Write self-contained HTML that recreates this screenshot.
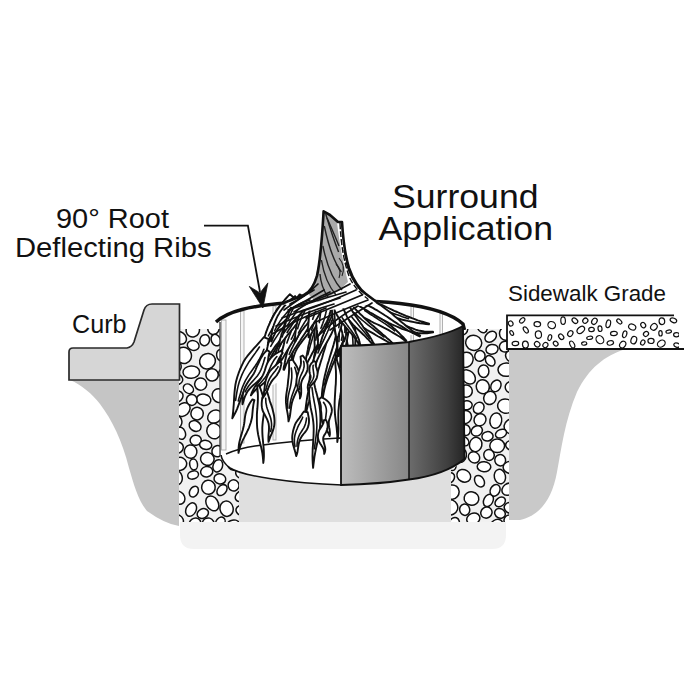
<!DOCTYPE html>
<html><head><meta charset="utf-8">
<style>
html,body{margin:0;padding:0;background:#fff;width:700px;height:700px;overflow:hidden}
svg{display:block}
text{font-family:"Liberation Sans",sans-serif;fill:#111}
</style></head>
<body>
<svg width="700" height="700" viewBox="0 0 700 700">
<defs>
  <clipPath id="cL"><path d="M179 329 H220 V456 Q224 466 239 472 V522 H179 Z"/></clipPath>
  <clipPath id="cR"><path d="M464 329 H509 V522 H451 V470 Q462 462 464 459 Z"/></clipPath>
  <clipPath id="cS"><rect x="507" y="316" width="172" height="32"/></clipPath>
  <linearGradient id="gL" gradientUnits="userSpaceOnUse" x1="341" x2="409" y1="0" y2="0">
    <stop offset="0" stop-color="#bdbdbd"/>
    <stop offset="1" stop-color="#878787"/>
  </linearGradient>
  <linearGradient id="gR" gradientUnits="userSpaceOnUse" x1="409" x2="465" y1="0" y2="0">
    <stop offset="0" stop-color="#6c6c6c"/>
    <stop offset="0.7" stop-color="#3e3e3e"/>
    <stop offset="1" stop-color="#242424"/>
  </linearGradient>
</defs>
<rect width="700" height="700" fill="#fff"/>

<!-- bottom faint band -->
<path d="M180 515 H506 V535 Q506 549 492 549 H194 Q180 549 180 535 Z" fill="#f3f3f3"/>

<!-- left ground -->
<path d="M70 380 H179 V526 Q165 524 147 511 C138 500 134 485 129 468 C122 440 112 420 100 404 C92 394 82 385 70 380 Z" fill="#c5c5c5"/>
<!-- right ground -->
<path d="M509 349 H626 C604 356 589 368 577 392 C565 420 561 450 557 472 C552 500 539 516 520 520 H509 Z" fill="#c9c9c9"/>

<!-- floor under cylinder -->
<rect x="220" y="430" width="244" height="92" fill="#dfdfdf"/>

<!-- gravel columns -->
<rect x="179" y="329" width="60" height="194" fill="#f1f1f1" clip-path="url(#cL)"/>
<g clip-path="url(#cL)" fill="#fff" stroke="#111" stroke-width="1.5"><ellipse cx="180.6" cy="433.1" rx="6.4" ry="4.7" transform="rotate(66 180.6 433.1)"/><ellipse cx="204.7" cy="340.2" rx="4.8" ry="5.6" transform="rotate(16 204.7 340.2)"/><ellipse cx="190.6" cy="451.6" rx="6.3" ry="6.7" transform="rotate(171 190.6 451.6)"/><ellipse cx="178.6" cy="497.6" rx="7.1" ry="5.8" transform="rotate(52 178.6 497.6)"/><ellipse cx="229.3" cy="362.2" rx="4.3" ry="5.8" transform="rotate(105 229.3 362.2)"/><ellipse cx="179.6" cy="337.9" rx="7.3" ry="5.9" transform="rotate(37 179.6 337.9)"/><ellipse cx="214.7" cy="416.6" rx="6.2" ry="7.4" transform="rotate(54 214.7 416.6)"/><ellipse cx="214.0" cy="431.1" rx="7.1" ry="7.8" transform="rotate(158 214.0 431.1)"/><ellipse cx="183.2" cy="409.6" rx="7.6" ry="6.0" transform="rotate(136 183.2 409.6)"/><ellipse cx="219.9" cy="478.9" rx="5.0" ry="5.9" transform="rotate(103 219.9 478.9)"/><ellipse cx="207.3" cy="458.9" rx="6.8" ry="6.4" transform="rotate(11 207.3 458.9)"/><ellipse cx="230.7" cy="382.8" rx="7.5" ry="6.7" transform="rotate(69 230.7 382.8)"/><ellipse cx="212.3" cy="503.4" rx="5.8" ry="8.0" transform="rotate(147 212.3 503.4)"/><ellipse cx="191.3" cy="372.1" rx="6.2" ry="8.3" transform="rotate(87 191.3 372.1)"/><ellipse cx="203.7" cy="399.7" rx="5.6" ry="7.2" transform="rotate(102 203.7 399.7)"/><ellipse cx="233.6" cy="485.4" rx="5.6" ry="5.4" transform="rotate(71 233.6 485.4)"/><ellipse cx="193.9" cy="491.7" rx="4.1" ry="5.7" transform="rotate(29 193.9 491.7)"/><ellipse cx="232.8" cy="465.0" rx="5.5" ry="4.7" transform="rotate(47 232.8 465.0)"/><ellipse cx="241.2" cy="496.1" rx="6.4" ry="4.9" transform="rotate(145 241.2 496.1)"/><ellipse cx="193.6" cy="464.4" rx="3.9" ry="5.5" transform="rotate(172 193.6 464.4)"/><ellipse cx="239.4" cy="398.8" rx="6.7" ry="6.6" transform="rotate(40 239.4 398.8)"/><ellipse cx="229.4" cy="342.7" rx="7.9" ry="6.7" transform="rotate(119 229.4 342.7)"/><ellipse cx="207.5" cy="361.2" rx="8.1" ry="7.6" transform="rotate(142 207.5 361.2)"/><ellipse cx="183.8" cy="355.4" rx="7.6" ry="8.2" transform="rotate(163 183.8 355.4)"/><ellipse cx="177.1" cy="520.4" rx="5.6" ry="6.5" transform="rotate(117 177.1 520.4)"/><ellipse cx="226.6" cy="508.7" rx="7.7" ry="6.6" transform="rotate(80 226.6 508.7)"/><ellipse cx="208.2" cy="524.0" rx="6.0" ry="6.1" transform="rotate(150 208.2 524.0)"/><ellipse cx="179.6" cy="463.9" rx="6.5" ry="7.1" transform="rotate(77 179.6 463.9)"/><ellipse cx="195.1" cy="426.0" rx="6.3" ry="5.0" transform="rotate(32 195.1 426.0)"/><ellipse cx="212.1" cy="374.9" rx="6.2" ry="6.1" transform="rotate(174 212.1 374.9)"/><ellipse cx="175.9" cy="379.0" rx="6.9" ry="5.3" transform="rotate(16 175.9 379.0)"/><ellipse cx="241.3" cy="355.2" rx="6.6" ry="8.0" transform="rotate(130 241.3 355.2)"/><ellipse cx="235.4" cy="451.4" rx="7.3" ry="5.2" transform="rotate(132 235.4 451.4)"/><ellipse cx="217.4" cy="451.2" rx="5.7" ry="5.4" transform="rotate(123 217.4 451.2)"/><ellipse cx="213.5" cy="328.4" rx="5.7" ry="6.2" transform="rotate(11 213.5 328.4)"/><ellipse cx="238.9" cy="435.9" rx="7.8" ry="7.0" transform="rotate(130 238.9 435.9)"/><ellipse cx="191.1" cy="509.6" rx="7.1" ry="5.0" transform="rotate(116 191.1 509.6)"/><ellipse cx="217.8" cy="465.8" rx="4.7" ry="6.3" transform="rotate(20 217.8 465.8)"/><ellipse cx="193.1" cy="475.0" rx="5.5" ry="4.0" transform="rotate(162 193.1 475.0)"/><ellipse cx="176.2" cy="477.5" rx="6.0" ry="7.5" transform="rotate(165 176.2 477.5)"/><ellipse cx="188.4" cy="388.8" rx="5.4" ry="4.3" transform="rotate(37 188.4 388.8)"/><ellipse cx="232.9" cy="525.9" rx="5.7" ry="7.1" transform="rotate(65 232.9 525.9)"/><ellipse cx="234.4" cy="418.2" rx="6.3" ry="6.7" transform="rotate(29 234.4 418.2)"/><ellipse cx="208.4" cy="487.3" rx="6.8" ry="7.0" transform="rotate(174 208.4 487.3)"/><ellipse cx="234.6" cy="328.4" rx="7.2" ry="7.3" transform="rotate(47 234.6 328.4)"/><ellipse cx="218.8" cy="395.6" rx="7.0" ry="6.5" transform="rotate(59 218.8 395.6)"/><ellipse cx="178.1" cy="447.8" rx="5.6" ry="5.0" transform="rotate(123 178.1 447.8)"/><ellipse cx="241.9" cy="510.5" rx="6.0" ry="4.9" transform="rotate(18 241.9 510.5)"/><ellipse cx="176.3" cy="396.6" rx="6.9" ry="5.7" transform="rotate(155 176.3 396.6)"/><ellipse cx="194.9" cy="523.6" rx="5.3" ry="6.1" transform="rotate(53 194.9 523.6)"/><ellipse cx="195.7" cy="440.2" rx="5.6" ry="5.0" transform="rotate(172 195.7 440.2)"/><ellipse cx="192.8" cy="330.2" rx="6.6" ry="6.9" transform="rotate(30 192.8 330.2)"/><ellipse cx="206.7" cy="471.7" rx="5.2" ry="6.1" transform="rotate(77 206.7 471.7)"/><ellipse cx="197.1" cy="413.6" rx="6.2" ry="6.3" transform="rotate(20 197.1 413.6)"/><ellipse cx="220.7" cy="355.1" rx="5.7" ry="4.1" transform="rotate(83 220.7 355.1)"/><ellipse cx="200.7" cy="384.1" rx="6.1" ry="6.0" transform="rotate(72 200.7 384.1)"/><ellipse cx="239.6" cy="370.1" rx="6.7" ry="6.6" transform="rotate(40 239.6 370.1)"/><ellipse cx="226.5" cy="440.6" rx="5.3" ry="6.0" transform="rotate(149 226.5 440.6)"/><ellipse cx="228.3" cy="404.8" rx="6.4" ry="6.2" transform="rotate(82 228.3 404.8)"/><ellipse cx="241.4" cy="472.7" rx="5.5" ry="5.7" transform="rotate(77 241.4 472.7)"/><ellipse cx="205.7" cy="444.9" rx="4.5" ry="6.1" transform="rotate(99 205.7 444.9)"/><ellipse cx="220.4" cy="522.1" rx="4.2" ry="5.4" transform="rotate(38 220.4 522.1)"/><ellipse cx="222.0" cy="490.1" rx="6.1" ry="4.3" transform="rotate(129 222.0 490.1)"/><ellipse cx="193.2" cy="345.5" rx="4.8" ry="6.0" transform="rotate(106 193.2 345.5)"/><ellipse cx="215.9" cy="340.1" rx="6.0" ry="4.5" transform="rotate(64 215.9 340.1)"/><ellipse cx="176.6" cy="367.1" rx="5.6" ry="4.5" transform="rotate(104 176.6 367.1)"/><ellipse cx="223.6" cy="372.0" rx="4.0" ry="5.4" transform="rotate(48 223.6 372.0)"/><ellipse cx="176.9" cy="421.6" rx="6.2" ry="5.0" transform="rotate(84 176.9 421.6)"/><ellipse cx="241.7" cy="338.8" rx="5.6" ry="5.6" transform="rotate(88 241.7 338.8)"/><ellipse cx="227.0" cy="429.3" rx="4.2" ry="5.7" transform="rotate(157 227.0 429.3)"/><ellipse cx="202.8" cy="513.5" rx="4.7" ry="5.8" transform="rotate(63 202.8 513.5)"/><ellipse cx="191.7" cy="399.9" rx="5.3" ry="5.5" transform="rotate(7 191.7 399.9)"/></g>
<rect x="451" y="329" width="58" height="194" fill="#f1f1f1" clip-path="url(#cR)"/>
<g clip-path="url(#cR)" fill="#fff" stroke="#111" stroke-width="1.5"><ellipse cx="511.2" cy="387.3" rx="6.0" ry="5.7" transform="rotate(22 511.2 387.3)"/><ellipse cx="466.0" cy="359.8" rx="7.0" ry="7.8" transform="rotate(29 466.0 359.8)"/><ellipse cx="473.3" cy="518.7" rx="6.7" ry="5.5" transform="rotate(158 473.3 518.7)"/><ellipse cx="465.5" cy="417.0" rx="6.5" ry="5.9" transform="rotate(112 465.5 417.0)"/><ellipse cx="497.2" cy="445.8" rx="6.8" ry="7.4" transform="rotate(88 497.2 445.8)"/><ellipse cx="484.0" cy="466.7" rx="6.8" ry="5.0" transform="rotate(4 484.0 466.7)"/><ellipse cx="473.7" cy="342.8" rx="8.1" ry="7.5" transform="rotate(22 473.7 342.8)"/><ellipse cx="488.4" cy="500.4" rx="6.5" ry="4.6" transform="rotate(117 488.4 500.4)"/><ellipse cx="495.9" cy="385.9" rx="4.8" ry="6.1" transform="rotate(31 495.9 385.9)"/><ellipse cx="466.2" cy="391.1" rx="6.1" ry="6.1" transform="rotate(36 466.2 391.1)"/><ellipse cx="505.6" cy="406.1" rx="8.0" ry="7.1" transform="rotate(18 505.6 406.1)"/><ellipse cx="479.5" cy="481.2" rx="4.5" ry="6.2" transform="rotate(148 479.5 481.2)"/><ellipse cx="452.0" cy="492.1" rx="7.0" ry="7.3" transform="rotate(39 452.0 492.1)"/><ellipse cx="448.3" cy="425.9" rx="6.6" ry="5.9" transform="rotate(89 448.3 425.9)"/><ellipse cx="458.1" cy="342.7" rx="6.5" ry="4.8" transform="rotate(125 458.1 342.7)"/><ellipse cx="450.8" cy="443.4" rx="5.8" ry="6.3" transform="rotate(134 450.8 443.4)"/><ellipse cx="461.0" cy="455.4" rx="5.4" ry="7.1" transform="rotate(11 461.0 455.4)"/><ellipse cx="463.8" cy="475.8" rx="6.0" ry="7.2" transform="rotate(120 463.8 475.8)"/><ellipse cx="478.7" cy="407.9" rx="5.0" ry="6.0" transform="rotate(37 478.7 407.9)"/><ellipse cx="511.5" cy="356.2" rx="5.5" ry="6.4" transform="rotate(136 511.5 356.2)"/><ellipse cx="475.7" cy="444.5" rx="6.2" ry="7.2" transform="rotate(14 475.7 444.5)"/><ellipse cx="496.1" cy="526.8" rx="6.2" ry="8.1" transform="rotate(34 496.1 526.8)"/><ellipse cx="482.8" cy="386.7" rx="6.5" ry="7.1" transform="rotate(162 482.8 386.7)"/><ellipse cx="505.9" cy="333.5" rx="6.4" ry="6.7" transform="rotate(4 505.9 333.5)"/><ellipse cx="499.9" cy="476.6" rx="7.3" ry="5.6" transform="rotate(77 499.9 476.6)"/><ellipse cx="511.8" cy="508.1" rx="5.7" ry="7.7" transform="rotate(104 511.8 508.1)"/><ellipse cx="454.2" cy="523.5" rx="6.2" ry="5.0" transform="rotate(112 454.2 523.5)"/><ellipse cx="500.2" cy="460.2" rx="5.7" ry="5.4" transform="rotate(77 500.2 460.2)"/><ellipse cx="452.1" cy="379.9" rx="7.4" ry="8.0" transform="rotate(108 452.1 379.9)"/><ellipse cx="492.0" cy="349.3" rx="6.1" ry="4.8" transform="rotate(170 492.0 349.3)"/><ellipse cx="453.8" cy="406.3" rx="7.6" ry="7.9" transform="rotate(14 453.8 406.3)"/><ellipse cx="471.5" cy="498.5" rx="6.6" ry="7.4" transform="rotate(101 471.5 498.5)"/><ellipse cx="486.4" cy="512.6" rx="5.8" ry="5.4" transform="rotate(143 486.4 512.6)"/><ellipse cx="506.3" cy="369.6" rx="6.7" ry="8.3" transform="rotate(88 506.3 369.6)"/><ellipse cx="511.1" cy="445.5" rx="4.6" ry="5.5" transform="rotate(110 511.1 445.5)"/><ellipse cx="461.3" cy="328.8" rx="6.5" ry="6.5" transform="rotate(136 461.3 328.8)"/><ellipse cx="483.6" cy="371.2" rx="5.3" ry="6.3" transform="rotate(178 483.6 371.2)"/><ellipse cx="495.8" cy="420.6" rx="5.9" ry="7.7" transform="rotate(10 495.8 420.6)"/><ellipse cx="465.7" cy="430.1" rx="4.5" ry="5.4" transform="rotate(168 465.7 430.1)"/><ellipse cx="451.2" cy="464.7" rx="6.1" ry="4.4" transform="rotate(63 451.2 464.7)"/><ellipse cx="450.0" cy="507.3" rx="7.6" ry="7.8" transform="rotate(110 450.0 507.3)"/><ellipse cx="490.7" cy="336.7" rx="6.4" ry="4.7" transform="rotate(141 490.7 336.7)"/><ellipse cx="480.0" cy="419.8" rx="6.3" ry="5.8" transform="rotate(128 480.0 419.8)"/><ellipse cx="489.9" cy="397.9" rx="6.7" ry="6.1" transform="rotate(115 489.9 397.9)"/><ellipse cx="511.8" cy="426.6" rx="7.7" ry="7.4" transform="rotate(9 511.8 426.6)"/><ellipse cx="508.4" cy="489.2" rx="6.9" ry="5.6" transform="rotate(143 508.4 489.2)"/><ellipse cx="500.2" cy="501.9" rx="5.7" ry="4.2" transform="rotate(143 500.2 501.9)"/><ellipse cx="448.0" cy="351.0" rx="6.3" ry="6.7" transform="rotate(173 448.0 351.0)"/><ellipse cx="482.1" cy="326.6" rx="4.8" ry="6.4" transform="rotate(153 482.1 326.6)"/><ellipse cx="468.3" cy="376.9" rx="6.0" ry="8.0" transform="rotate(134 468.3 376.9)"/><ellipse cx="487.5" cy="436.3" rx="5.6" ry="4.7" transform="rotate(173 487.5 436.3)"/><ellipse cx="479.9" cy="355.9" rx="5.1" ry="5.4" transform="rotate(31 479.9 355.9)"/><ellipse cx="510.8" cy="467.5" rx="7.7" ry="6.1" transform="rotate(7 510.8 467.5)"/><ellipse cx="463.8" cy="440.9" rx="4.0" ry="5.6" transform="rotate(132 463.8 440.9)"/><ellipse cx="453.7" cy="367.0" rx="4.5" ry="5.4" transform="rotate(105 453.7 367.0)"/><ellipse cx="449.3" cy="332.7" rx="6.2" ry="4.7" transform="rotate(176 449.3 332.7)"/><ellipse cx="449.7" cy="478.1" rx="4.3" ry="5.7" transform="rotate(37 449.7 478.1)"/><ellipse cx="464.7" cy="509.7" rx="5.7" ry="5.0" transform="rotate(77 464.7 509.7)"/><ellipse cx="474.0" cy="457.4" rx="5.3" ry="6.0" transform="rotate(129 474.0 457.4)"/><ellipse cx="495.1" cy="490.3" rx="6.1" ry="4.7" transform="rotate(117 495.1 490.3)"/><ellipse cx="490.2" cy="360.8" rx="5.7" ry="4.2" transform="rotate(52 490.2 360.8)"/><ellipse cx="500.0" cy="513.4" rx="4.7" ry="5.5" transform="rotate(121 500.0 513.4)"/><ellipse cx="505.1" cy="346.6" rx="5.4" ry="5.7" transform="rotate(74 505.1 346.6)"/><ellipse cx="489.0" cy="455.0" rx="5.2" ry="5.5" transform="rotate(153 489.0 455.0)"/><ellipse cx="452.5" cy="393.3" rx="4.4" ry="5.5" transform="rotate(176 452.5 393.3)"/><ellipse cx="466.8" cy="405.3" rx="4.5" ry="5.4" transform="rotate(81 466.8 405.3)"/><ellipse cx="509.4" cy="520.4" rx="5.4" ry="5.4" transform="rotate(5 509.4 520.4)"/><ellipse cx="501.0" cy="433.6" rx="5.8" ry="4.1" transform="rotate(157 501.0 433.6)"/><ellipse cx="476.8" cy="430.9" rx="4.9" ry="5.8" transform="rotate(58 476.8 430.9)"/></g>

<!-- curb -->
<path d="M69 352 Q69 348 73 348 H127 Q132 347 134 342 L144 310 Q146 304 152 304 H179.5 V380 H69 Z" fill="#d6d6d6" stroke="#2a2a2a" stroke-width="1.7"/>

<!-- sidewalk slab -->
<rect x="507" y="315" width="172" height="34" fill="#fff"/>
<g clip-path="url(#cS)" fill="#fff" stroke="#111" stroke-width="1.2"><ellipse cx="580.8" cy="329.9" rx="4.3" ry="2.9" transform="rotate(137 580.8 329.9)"/><ellipse cx="661.3" cy="343.6" rx="4.1" ry="3.2" transform="rotate(148 661.3 343.6)"/><ellipse cx="632.2" cy="327.0" rx="3.7" ry="2.9" transform="rotate(27 632.2 327.0)"/><ellipse cx="653.9" cy="326.9" rx="3.0" ry="3.5" transform="rotate(44 653.9 326.9)"/><ellipse cx="608.3" cy="323.8" rx="3.9" ry="2.2" transform="rotate(103 608.3 323.8)"/><ellipse cx="676.8" cy="345.1" rx="2.1" ry="3.0" transform="rotate(110 676.8 345.1)"/><ellipse cx="589.7" cy="337.8" rx="1.6" ry="3.0" transform="rotate(80 589.7 337.8)"/><ellipse cx="563.1" cy="320.6" rx="2.3" ry="3.8" transform="rotate(178 563.1 320.6)"/><ellipse cx="643.2" cy="325.1" rx="2.8" ry="2.3" transform="rotate(56 643.2 325.1)"/><ellipse cx="668.7" cy="331.6" rx="1.5" ry="2.8" transform="rotate(78 668.7 331.6)"/><ellipse cx="538.4" cy="334.6" rx="3.1" ry="3.8" transform="rotate(176 538.4 334.6)"/><ellipse cx="551.7" cy="325.1" rx="3.5" ry="3.9" transform="rotate(121 551.7 325.1)"/><ellipse cx="549.8" cy="337.6" rx="3.0" ry="1.8" transform="rotate(106 549.8 337.6)"/><ellipse cx="613.9" cy="333.5" rx="2.1" ry="3.4" transform="rotate(87 613.9 333.5)"/><ellipse cx="619.3" cy="321.5" rx="1.8" ry="3.0" transform="rotate(130 619.3 321.5)"/><ellipse cx="525.8" cy="329.9" rx="2.0" ry="3.4" transform="rotate(146 525.8 329.9)"/><ellipse cx="633.8" cy="340.1" rx="3.8" ry="2.8" transform="rotate(108 633.8 340.1)"/><ellipse cx="525.4" cy="344.6" rx="2.9" ry="3.5" transform="rotate(174 525.4 344.6)"/><ellipse cx="599.9" cy="339.7" rx="4.3" ry="3.6" transform="rotate(53 599.9 339.7)"/><ellipse cx="673.4" cy="320.3" rx="3.4" ry="2.2" transform="rotate(21 673.4 320.3)"/><ellipse cx="561.2" cy="336.8" rx="2.2" ry="3.0" transform="rotate(138 561.2 336.8)"/><ellipse cx="515.4" cy="343.5" rx="3.3" ry="2.1" transform="rotate(175 515.4 343.5)"/><ellipse cx="661.9" cy="321.2" rx="2.8" ry="3.4" transform="rotate(177 661.9 321.2)"/><ellipse cx="651.0" cy="340.9" rx="3.1" ry="2.6" transform="rotate(1 651.0 340.9)"/><ellipse cx="622.7" cy="344.6" rx="2.8" ry="3.6" transform="rotate(34 622.7 344.6)"/><ellipse cx="574.9" cy="320.7" rx="3.2" ry="2.2" transform="rotate(39 574.9 320.7)"/><ellipse cx="510.7" cy="323.5" rx="2.6" ry="2.2" transform="rotate(60 510.7 323.5)"/><ellipse cx="594.4" cy="321.3" rx="2.5" ry="3.3" transform="rotate(35 594.4 321.3)"/><ellipse cx="570.3" cy="333.6" rx="2.4" ry="3.1" transform="rotate(36 570.3 333.6)"/><ellipse cx="537.3" cy="324.2" rx="2.5" ry="3.3" transform="rotate(96 537.3 324.2)"/><ellipse cx="572.2" cy="344.5" rx="2.1" ry="3.7" transform="rotate(152 572.2 344.5)"/><ellipse cx="522.2" cy="320.4" rx="3.1" ry="2.0" transform="rotate(135 522.2 320.4)"/><ellipse cx="660.5" cy="333.3" rx="1.7" ry="2.7" transform="rotate(177 660.5 333.3)"/><ellipse cx="610.3" cy="342.9" rx="2.2" ry="3.3" transform="rotate(76 610.3 342.9)"/><ellipse cx="624.7" cy="334.3" rx="2.0" ry="3.5" transform="rotate(17 624.7 334.3)"/><ellipse cx="511.7" cy="333.0" rx="2.6" ry="1.6" transform="rotate(61 511.7 333.0)"/><ellipse cx="537.2" cy="344.3" rx="2.5" ry="2.9" transform="rotate(131 537.2 344.3)"/><ellipse cx="584.2" cy="343.5" rx="1.7" ry="2.6" transform="rotate(84 584.2 343.5)"/><ellipse cx="642.8" cy="342.5" rx="2.0" ry="2.7" transform="rotate(30 642.8 342.5)"/><ellipse cx="591.5" cy="329.5" rx="2.2" ry="2.8" transform="rotate(85 591.5 329.5)"/><ellipse cx="555.7" cy="343.6" rx="2.6" ry="2.1" transform="rotate(45 555.7 343.6)"/><ellipse cx="646.0" cy="333.9" rx="2.3" ry="2.7" transform="rotate(48 646.0 333.9)"/><ellipse cx="676.4" cy="334.7" rx="2.1" ry="2.8" transform="rotate(88 676.4 334.7)"/><ellipse cx="585.3" cy="320.7" rx="2.7" ry="2.4" transform="rotate(136 585.3 320.7)"/><ellipse cx="545.4" cy="345.1" rx="2.7" ry="2.4" transform="rotate(124 545.4 345.1)"/><ellipse cx="600.0" cy="328.7" rx="2.0" ry="2.8" transform="rotate(173 600.0 328.7)"/></g>
<path d="M674 315.3 H507 V349 H684" fill="none" stroke="#111" stroke-width="1.8"/>

<!-- cylinder inner -->
<path d="M220 322 Q230 310 262 306 Q300 300 342 300 Q420 300 464 325 V459 Q440 478 342 485 C280 482 240 475 228 466 Q222 461 221 455 Z" fill="#fff"/>
<!-- ribs -->
<g fill="#f6f6f6" stroke="#aaa" stroke-width="0.9">
  <rect x="221.5" y="320" width="4.5" height="130"/>
  <rect x="240.5" y="311" width="3.5" height="132"/>
  <rect x="273" y="306" width="3" height="134"/>
  <rect x="411" y="306" width="2.5" height="130"/>
  <rect x="440" y="313" width="2.5" height="120"/>
</g>
<!-- inner floor back edge -->
<path d="M226 454 Q240 448 255 446 Q300 440 340 438 Q400 438 440 442" fill="none" stroke="#111" stroke-width="1.5"/>
<!-- floor front edge / cylinder bottom left -->
<path d="M221 455 Q222 462 230 468 C242 476 290 483 342 485" fill="none" stroke="#111" stroke-width="1.6"/>
<!-- cylinder left outer edge -->
<path d="M220 322 V456" stroke="#333" stroke-width="1.3" fill="none"/>

<!-- back rim -->
<path d="M216 322 C228 311 250 306 286 303 C320 300 370 300 400 303.5 C430 307 452 314 463 324 L464.5 330" fill="none" stroke="#111" stroke-width="3.4"/>

<path d="M287.0 304.0 L294.0 296.0 L306.0 292.0 L318.0 284.0 L352.0 286.0 L366.0 294.0 L380.0 303.0 L396.0 312.0 L420.0 320.0 L438.0 324.0 L432.0 333.0 L402.0 336.0 L397.0 346.0 L341.0 347.0 L338.0 375.0 L300.0 372.0 L262.0 390.0 L240.0 400.0 L236.0 386.0 L248.0 356.0 L262.0 334.0 L274.0 318.0Z" fill="#fff"/>
<path d="M288.0 297.4 L286.0 299.4 L283.8 301.3 L281.8 303.4 L280.1 305.5 L278.4 307.6 L276.8 309.7 L275.6 312.0 L274.2 314.1 L273.0 316.2 L272.0 318.5 L270.9 320.6 L270.1 322.8 L269.2 325.0 L268.5 327.2 L267.7 329.4 L267.1 331.6 L266.4 333.9 L265.8 336.1 L265.3 338.4 L264.5 340.6 L263.8 342.9 L263.2 345.2 L262.4 347.5 L261.7 349.9 L262.4 350.2 L263.6 348.0 L264.8 345.9 L266.1 343.9 L267.3 341.8 L268.4 339.8 L269.7 337.8 L271.0 335.9 L272.1 333.9 L273.3 332.1 L274.6 330.2 L275.9 328.4 L277.1 326.6 L278.4 324.8 L279.7 323.1 L281.2 321.5 L282.5 319.8 L283.9 318.1 L285.5 316.5 L286.9 314.8 L288.5 313.1 L290.3 311.6 L292.0 309.8 L293.9 308.3 L296.0 306.6Z" fill="#fff" stroke="#111" stroke-width="1.9" stroke-linejoin="round"/><path d="M283.9 312.2 L282.3 314.0 L280.9 315.9 L279.5 317.7 L278.2 319.6 L276.9 321.4 L275.8 323.3 L274.6 325.2 L273.5 327.2" fill="none" stroke="#111" stroke-width="1.6" stroke-linecap="round"/><path d="M282.6 307.8 L281.0 309.8 L279.4 311.7 L278.0 313.7 L276.7 315.8 L275.4 317.8 L274.3 319.8 L273.2 321.9 L272.2 323.9 L271.2 326.0 L270.3 328.1 L269.5 330.2" fill="none" stroke="#111" stroke-width="1.6" stroke-linecap="round"/>
<path d="M300.2 298.8 L297.0 302.7 L294.0 306.6 L291.0 310.3 L288.2 314.1 L285.5 317.8 L283.1 321.7 L280.7 325.4 L278.3 329.0 L276.2 332.8 L274.1 336.5 L272.4 340.3 L270.6 344.0 L268.9 347.7 L267.5 351.6 L266.0 355.3 L264.7 359.2 L263.6 363.1 L262.3 367.0 L261.3 371.0 L260.4 375.0 L259.6 379.1 L258.8 383.3 L258.1 387.6 L257.5 391.9 L258.4 392.1 L259.4 387.8 L260.5 383.7 L261.7 379.7 L263.0 375.7 L264.5 371.9 L265.8 368.2 L267.4 364.5 L269.1 360.9 L270.8 357.4 L272.6 353.9 L274.6 350.5 L276.6 347.1 L278.6 343.7 L280.8 340.3 L283.0 337.0 L285.4 333.6 L287.8 330.2 L290.5 326.9 L293.1 323.4 L295.8 319.9 L298.7 316.4 L301.5 312.6 L304.7 309.0 L307.8 305.2Z" fill="#fff" stroke="#111" stroke-width="1.9" stroke-linejoin="round"/><path d="M291.3 316.5 L288.6 320.2 L286.1 323.8 L283.6 327.4 L281.3 331.0 L279.1 334.5 L276.9 338.1 L274.9 341.7 L273.0 345.3 L271.3 348.9 L269.6 352.5 L268.0 356.2 L266.5 359.9" fill="none" stroke="#111" stroke-width="1.6" stroke-linecap="round"/>
<path d="M307.6 299.4 L305.1 303.9 L302.6 308.2 L300.0 312.3 L297.5 316.4 L295.1 320.4 L292.6 324.3 L290.3 328.2 L288.0 332.1 L285.7 335.9 L283.6 339.7 L281.4 343.4 L279.4 347.2 L277.5 350.9 L275.7 354.8 L274.1 358.6 L272.5 362.5 L271.2 366.4 L269.8 370.4 L268.7 374.4 L267.8 378.5 L267.0 382.7 L266.3 387.0 L265.9 391.4 L265.6 396.0 L266.4 396.0 L267.0 391.6 L268.0 387.3 L269.1 383.2 L270.4 379.3 L271.8 375.4 L273.3 371.7 L275.0 368.0 L276.9 364.5 L278.9 361.0 L280.8 357.5 L282.9 354.0 L285.3 350.7 L287.6 347.2 L289.9 343.7 L292.4 340.2 L295.0 336.7 L297.7 333.1 L300.1 329.3 L302.8 325.5 L305.5 321.6 L308.2 317.5 L310.9 313.3 L313.6 309.0 L316.3 304.5Z" fill="#fff" stroke="#111" stroke-width="1.9" stroke-linejoin="round"/><path d="M297.2 327.4 L294.7 331.2 L292.2 334.9 L289.8 338.5 L287.5 342.1 L285.2 345.7 L283.0 349.3 L280.9 352.8 L278.9 356.4 L276.9 360.0 L275.2 363.7 L273.5 367.4 L272.0 371.2 L270.6 375.0" fill="none" stroke="#111" stroke-width="1.6" stroke-linecap="round"/>
<path d="M316.9 300.0 L315.8 303.0 L314.7 305.8 L313.4 308.5 L312.1 311.1 L310.8 313.6 L309.6 316.1 L308.1 318.5 L306.7 320.9 L305.4 323.4 L304.0 325.8 L302.5 328.2 L301.2 330.6 L300.0 333.1 L298.6 335.4 L297.5 337.9 L296.4 340.4 L295.4 342.9 L294.5 345.5 L293.7 348.1 L293.0 350.8 L292.3 353.4 L291.9 356.2 L291.7 359.0 L291.5 361.9 L292.5 362.1 L293.0 359.2 L293.7 356.6 L294.6 354.0 L295.5 351.6 L296.7 349.3 L298.0 347.1 L299.4 345.0 L301.0 342.9 L302.4 340.9 L304.0 338.8 L305.6 336.8 L307.3 334.7 L309.2 332.7 L310.8 330.5 L312.6 328.3 L314.5 326.1 L316.3 323.8 L317.9 321.3 L319.7 318.8 L321.3 316.1 L323.0 313.3 L324.4 310.3 L325.8 307.2 L327.2 304.0Z" fill="#fff" stroke="#111" stroke-width="1.9" stroke-linejoin="round"/><path d="M315.5 316.3 L314.0 318.9 L312.4 321.3 L310.8 323.7 L309.2 326.0 L307.6 328.3 L306.1 330.6 L304.5 332.8 L303.0 335.0 L301.5 337.2 L300.1 339.5 L298.8 341.7 L297.5 344.0" fill="none" stroke="#111" stroke-width="1.6" stroke-linecap="round"/>
<path d="M324.5 301.0 L323.6 306.7 L322.6 312.1 L321.8 317.4 L320.6 322.5 L319.8 327.6 L318.7 332.5 L317.9 337.3 L317.1 342.0 L316.2 346.7 L315.3 351.2 L314.3 355.8 L313.6 360.3 L312.7 364.8 L312.0 369.2 L311.0 373.7 L310.3 378.2 L309.6 382.7 L308.8 387.2 L308.2 391.9 L307.3 396.5 L306.6 401.2 L305.9 406.0 L305.3 410.9 L304.5 415.9 L305.4 416.1 L306.5 411.1 L307.6 406.3 L309.0 401.7 L310.1 397.1 L311.4 392.6 L312.7 388.1 L314.1 383.7 L315.4 379.4 L316.7 375.1 L318.1 370.7 L319.4 366.4 L320.7 362.0 L322.1 357.7 L323.3 353.2 L324.8 348.7 L326.1 344.1 L327.3 339.4 L328.5 334.6 L329.8 329.7 L330.9 324.7 L332.0 319.5 L333.2 314.2 L334.3 308.6 L335.4 303.0Z" fill="#fff" stroke="#111" stroke-width="1.9" stroke-linejoin="round"/><path d="M327.3 313.0 L326.3 318.3 L325.2 323.5 L324.2 328.5 L323.1 333.4 L322.0 338.2 L321.0 342.9 L319.9 347.5 L318.8 352.1 L317.8 356.6 L316.7 361.1 L315.6 365.5 L314.6 369.9 L313.6 374.3 L312.5 378.7 L311.5 383.2 L310.5 387.6 L309.6 392.2" fill="none" stroke="#111" stroke-width="1.6" stroke-linecap="round"/>
<path d="M331.1 301.4 L330.6 305.2 L330.1 308.7 L329.4 312.1 L328.7 315.5 L327.9 318.7 L326.9 321.8 L325.9 324.9 L324.9 328.0 L323.8 331.0 L322.5 334.0 L321.5 337.0 L320.2 340.0 L319.2 343.0 L318.0 346.0 L317.0 349.1 L316.0 352.1 L315.0 355.2 L314.0 358.2 L313.2 361.4 L312.7 364.6 L312.2 367.8 L311.7 371.1 L311.5 374.5 L311.6 378.0 L312.5 378.0 L312.8 374.6 L313.5 371.4 L314.2 368.2 L315.2 365.2 L316.2 362.3 L317.5 359.4 L318.8 356.6 L320.2 353.9 L321.7 351.2 L323.2 348.4 L324.8 345.7 L326.4 342.9 L328.1 340.1 L329.6 337.3 L331.2 334.3 L332.6 331.2 L334.1 328.1 L335.5 324.9 L336.7 321.5 L338.0 318.0 L339.0 314.3 L339.8 310.5 L340.6 306.6 L341.0 302.6Z" fill="#fff" stroke="#111" stroke-width="1.9" stroke-linejoin="round"/><path d="M332.0 320.0 L330.9 323.2 L329.7 326.4 L328.5 329.5 L327.2 332.5 L325.8 335.5 L324.5 338.4 L323.1 341.3 L321.7 344.2 L320.4 347.1 L319.1 350.0 L317.9 352.9" fill="none" stroke="#111" stroke-width="1.6" stroke-linecap="round"/>
<path d="M339.6 302.1 L339.5 307.0 L339.4 311.6 L339.1 316.1 L338.7 320.5 L338.1 324.8 L337.4 329.0 L336.5 333.1 L335.6 337.1 L334.6 341.1 L333.5 345.1 L332.3 349.0 L331.1 352.9 L329.9 356.8 L328.8 360.7 L327.5 364.6 L326.6 368.6 L325.6 372.6 L324.6 376.6 L323.7 380.6 L323.1 384.8 L322.4 388.9 L322.0 393.2 L321.7 397.5 L321.7 402.0 L322.4 402.0 L322.8 397.6 L323.6 393.4 L324.4 389.3 L325.4 385.3 L326.6 381.3 L327.8 377.5 L329.2 373.7 L330.7 370.0 L332.1 366.2 L333.7 362.5 L335.2 358.7 L337.0 355.0 L338.5 351.2 L339.9 347.2 L341.6 343.3 L342.9 339.2 L344.2 335.1 L345.3 330.7 L346.4 326.3 L347.2 321.7 L347.9 317.0 L348.3 312.1 L348.5 307.1 L348.6 301.9Z" fill="#fff" stroke="#111" stroke-width="1.9" stroke-linejoin="round"/><path d="M344.8 311.9 L344.4 316.7 L343.8 321.3 L343.0 325.7 L342.1 330.0 L341.1 334.2 L339.9 338.4 L338.7 342.4 L337.4 346.4 L336.0 350.3 L334.6 354.1 L333.1 357.9 L331.7 361.8 L330.3 365.6 L329.0 369.4 L327.7 373.2 L326.5 377.1 L325.4 381.0 L324.4 385.0" fill="none" stroke="#111" stroke-width="1.6" stroke-linecap="round"/>
<path d="M346.0 302.2 L346.1 305.1 L346.3 307.8 L346.0 310.4 L345.8 312.9 L345.5 315.4 L345.1 317.9 L344.7 320.3 L344.1 322.7 L343.4 325.0 L342.8 327.4 L341.9 329.7 L341.3 332.1 L340.5 334.5 L339.7 336.8 L339.0 339.2 L338.3 341.6 L337.5 344.0 L337.1 346.5 L336.6 349.0 L336.1 351.5 L335.7 354.1 L335.6 356.7 L335.6 359.3 L335.6 362.0 L336.3 362.0 L336.7 359.4 L337.0 356.8 L337.7 354.4 L338.3 352.0 L339.0 349.7 L340.0 347.5 L340.8 345.2 L342.0 343.0 L343.0 340.8 L344.0 338.6 L345.2 336.4 L346.3 334.1 L347.5 331.9 L348.6 329.6 L349.6 327.2 L350.6 324.7 L351.4 322.2 L352.3 319.6 L353.0 316.8 L353.4 314.0 L353.9 311.1 L354.2 308.0 L354.1 304.9 L354.0 301.8Z" fill="#fff" stroke="#111" stroke-width="1.9" stroke-linejoin="round"/>
<path d="M295.8 298.5 L293.1 301.7 L290.6 304.9 L288.0 307.9 L285.8 311.1 L283.4 314.0 L281.2 317.0 L279.0 320.0 L277.0 322.9 L275.0 325.8 L273.2 328.8 L271.2 331.6 L269.6 334.6 L267.8 337.5 L266.2 340.4 L264.6 343.4 L263.0 346.3 L261.4 349.3 L260.1 352.4 L258.6 355.5 L257.2 358.6 L255.8 361.8 L254.4 365.1 L253.0 368.4 L251.7 371.9 L252.4 372.2 L254.2 369.0 L256.0 365.9 L257.8 362.9 L259.7 360.0 L261.5 357.1 L263.4 354.3 L265.4 351.7 L267.3 349.0 L269.3 346.4 L271.4 343.9 L273.4 341.3 L275.5 338.7 L277.6 336.2 L279.8 333.7 L282.1 331.2 L284.3 328.6 L286.5 325.9 L289.0 323.3 L291.4 320.5 L293.8 317.6 L296.3 314.8 L298.9 311.8 L301.4 308.7 L304.2 305.5Z" fill="#fff" stroke="#111" stroke-width="1.9" stroke-linejoin="round"/><path d="M290.0 314.6 L287.7 317.5 L285.3 320.4 L283.1 323.2 L280.9 325.9 L278.8 328.7 L276.7 331.4 L274.7 334.1 L272.7 336.8 L270.8 339.5" fill="none" stroke="#111" stroke-width="1.6" stroke-linecap="round"/>
<path d="M303.5 300.8 L301.0 304.0 L298.7 307.4 L296.5 310.7 L294.2 313.9 L292.1 317.2 L290.1 320.5 L288.2 323.7 L286.5 327.0 L284.8 330.3 L283.1 333.5 L281.7 336.8 L280.3 340.0 L279.1 343.2 L277.7 346.4 L276.7 349.7 L275.6 352.8 L274.8 356.0 L273.9 359.2 L273.0 362.3 L272.3 365.5 L271.6 368.6 L271.0 371.7 L270.6 374.8 L270.1 377.9 L270.7 378.1 L271.8 375.2 L273.0 372.3 L274.2 369.4 L275.5 366.6 L276.8 363.8 L278.4 361.0 L279.9 358.2 L281.7 355.6 L283.4 352.8 L285.2 350.1 L287.0 347.4 L288.9 344.6 L290.7 341.8 L292.6 339.0 L294.7 336.2 L296.6 333.2 L298.7 330.3 L300.9 327.4 L302.9 324.2 L305.0 321.1 L307.2 317.9 L309.3 314.6 L311.6 311.3 L313.9 307.9Z" fill="#fff" stroke="#111" stroke-width="1.9" stroke-linejoin="round"/><path d="M299.0 321.7 L296.9 324.8 L294.9 327.9 L293.0 331.0 L291.1 334.0 L289.2 337.0 L287.4 340.0 L285.7 342.9 L284.1 345.8 L282.5 348.8 L280.9 351.7" fill="none" stroke="#111" stroke-width="1.6" stroke-linecap="round"/><path d="M298.8 312.3 L296.7 315.6 L294.6 318.8 L292.5 322.0 L290.6 325.2 L288.8 328.4 L287.0 331.6 L285.3 334.8 L283.7 337.9 L282.2 341.0 L280.8 344.1 L279.5 347.3 L278.2 350.4" fill="none" stroke="#111" stroke-width="1.6" stroke-linecap="round"/>
<path d="M299.3 300.7 L296.4 303.7 L293.5 306.8 L290.6 309.8 L288.0 312.9 L285.4 315.9 L282.9 319.1 L280.6 322.2 L278.4 325.4 L276.3 328.6 L274.3 331.8 L272.4 334.9 L270.7 338.2 L269.2 341.4 L267.7 344.7 L266.3 347.9 L265.1 351.1 L264.0 354.3 L262.9 357.5 L261.9 360.7 L261.2 364.0 L260.5 367.2 L259.7 370.3 L259.4 373.5 L258.9 376.7 L259.7 376.8 L260.6 373.8 L261.5 370.8 L262.7 367.8 L264.1 365.0 L265.5 362.1 L266.9 359.2 L268.5 356.4 L270.3 353.7 L272.1 350.9 L273.9 348.2 L275.9 345.4 L278.1 342.8 L280.1 340.0 L282.2 337.2 L284.5 334.5 L286.8 331.7 L289.1 328.9 L291.6 326.0 L294.1 323.2 L296.6 320.3 L299.2 317.3 L301.9 314.4 L304.6 311.3 L307.3 308.2Z" fill="#fff" stroke="#111" stroke-width="1.9" stroke-linejoin="round"/><path d="M292.1 316.4 L289.5 319.4 L287.0 322.4 L284.7 325.4 L282.4 328.4 L280.2 331.4 L278.1 334.4 L276.1 337.4 L274.2 340.3 L272.4 343.3 L270.7 346.3" fill="none" stroke="#111" stroke-width="1.6" stroke-linecap="round"/>
<path d="M336.5 298.8 L336.7 302.6 L337.1 306.3 L337.4 310.0 L338.1 313.5 L338.5 317.0 L339.2 320.4 L339.9 323.7 L340.8 326.9 L341.7 330.1 L342.4 333.2 L343.3 336.2 L344.2 339.1 L345.1 342.0 L345.9 344.8 L346.8 347.6 L347.5 350.4 L348.0 353.2 L348.6 355.9 L349.1 358.6 L349.5 361.4 L349.8 364.1 L349.8 366.8 L349.7 369.6 L349.6 372.4 L350.4 372.5 L351.3 369.9 L352.2 367.1 L352.9 364.4 L353.5 361.5 L354.0 358.7 L354.3 355.8 L354.8 352.8 L355.0 349.8 L355.2 346.8 L355.3 343.7 L355.4 340.6 L355.5 337.4 L355.5 334.2 L355.3 331.0 L355.0 327.8 L354.8 324.6 L354.4 321.3 L354.1 318.0 L353.7 314.7 L353.2 311.3 L352.7 307.9 L352.2 304.5 L351.9 301.0 L351.3 297.4Z" fill="#fff" stroke="#111" stroke-width="1.9" stroke-linejoin="round"/><path d="M350.4 318.6 L350.9 321.9 L351.3 325.2 L351.7 328.4 L352.1 331.6 L352.4 334.7 L352.7 337.8 L352.9 340.9 L353.0 344.0 L353.1 347.0 L353.1 350.0 L353.1 352.9" fill="none" stroke="#111" stroke-width="1.6" stroke-linecap="round"/><path d="M341.1 313.1 L341.7 316.5 L342.3 319.9 L343.0 323.2 L343.7 326.5 L344.4 329.6 L345.1 332.7 L345.8 335.8 L346.5 338.8 L347.2 341.7 L347.8 344.6 L348.4 347.5 L349.0 350.3 L349.5 353.1 L349.8 355.9 L350.1 358.6" fill="none" stroke="#111" stroke-width="1.6" stroke-linecap="round"/>
<path d="M310.7 301.9 L308.8 304.9 L307.0 307.9 L305.4 310.9 L303.5 313.8 L302.0 316.8 L300.4 319.6 L298.9 322.5 L297.5 325.4 L296.2 328.3 L294.9 331.1 L293.7 333.9 L292.4 336.7 L291.4 339.5 L290.3 342.3 L289.3 345.0 L288.5 347.8 L287.7 350.6 L286.9 353.3 L286.2 356.1 L285.6 358.8 L285.0 361.5 L284.5 364.2 L283.8 366.9 L283.5 369.6 L284.1 369.8 L285.2 367.3 L286.1 364.7 L287.3 362.3 L288.4 359.8 L289.7 357.4 L291.1 355.0 L292.4 352.7 L293.8 350.2 L295.4 347.9 L296.9 345.5 L298.5 343.1 L300.1 340.7 L301.6 338.2 L303.3 335.7 L305.0 333.2 L306.7 330.6 L308.3 327.8 L310.0 325.1 L311.7 322.4 L313.4 319.5 L315.1 316.6 L316.8 313.5 L318.6 310.4 L320.1 307.2Z" fill="#fff" stroke="#111" stroke-width="1.9" stroke-linejoin="round"/><path d="M307.5 319.9 L305.9 322.8 L304.3 325.6 L302.7 328.3 L301.1 331.0 L299.6 333.7 L298.2 336.3 L296.8 338.9 L295.4 341.5 L294.0 344.1 L292.8 346.7 L291.5 349.2 L290.3 351.8 L289.2 354.3" fill="none" stroke="#111" stroke-width="1.6" stroke-linecap="round"/>
<path d="M322.7 300.5 L321.5 303.7 L320.3 306.8 L318.9 309.7 L317.8 312.8 L316.8 315.8 L315.7 318.7 L314.8 321.6 L313.9 324.4 L313.0 327.3 L312.2 330.1 L311.4 332.9 L310.8 335.6 L310.2 338.4 L309.6 341.1 L309.0 343.8 L308.3 346.5 L307.9 349.2 L307.4 351.8 L306.9 354.5 L306.3 357.0 L305.8 359.6 L305.2 362.2 L304.8 364.8 L304.1 367.3 L304.9 367.5 L306.1 365.2 L307.3 362.9 L308.4 360.5 L309.7 358.2 L310.9 355.9 L312.1 353.5 L313.4 351.2 L314.7 348.8 L316.1 346.5 L317.5 344.1 L318.7 341.7 L320.2 339.2 L321.5 336.7 L322.8 334.2 L324.1 331.6 L325.3 328.9 L326.7 326.2 L327.8 323.4 L329.2 320.6 L330.4 317.7 L331.5 314.7 L332.7 311.6 L333.7 308.4 L335.0 305.2Z" fill="#fff" stroke="#111" stroke-width="1.9" stroke-linejoin="round"/><path d="M331.0 307.3 L329.8 310.5 L328.6 313.5 L327.4 316.5 L326.3 319.5 L325.1 322.3 L323.9 325.1 L322.7 327.9 L321.5 330.6 L320.3 333.2 L319.2 335.8 L318.0 338.4 L316.8 340.9 L315.6 343.4" fill="none" stroke="#111" stroke-width="1.6" stroke-linecap="round"/><path d="M321.9 310.9 L320.8 313.9 L319.6 316.9 L318.6 319.8 L317.5 322.6 L316.5 325.5 L315.6 328.3 L314.7 331.0 L313.8 333.8 L313.0 336.5 L312.2 339.2 L311.4 341.8 L310.6 344.4 L309.9 347.1 L309.2 349.6 L308.5 352.2 L307.8 354.8" fill="none" stroke="#111" stroke-width="1.6" stroke-linecap="round"/>
<path d="M340.6 301.8 L340.3 305.0 L339.9 308.2 L339.8 311.3 L339.4 314.3 L339.3 317.3 L339.1 320.3 L339.1 323.2 L339.0 326.0 L339.1 328.8 L339.1 331.5 L339.3 334.3 L339.4 336.9 L339.5 339.6 L339.6 342.2 L339.8 344.7 L339.8 347.3 L340.1 349.8 L340.1 352.3 L340.1 354.8 L340.3 357.3 L340.3 359.8 L340.2 362.2 L340.1 364.6 L339.9 367.1 L340.9 367.2 L341.3 364.8 L342.0 362.4 L342.6 360.0 L343.2 357.6 L343.7 355.2 L344.3 352.7 L345.0 350.3 L345.5 347.8 L346.0 345.2 L346.5 342.7 L347.0 340.1 L347.4 337.5 L348.0 334.8 L348.4 332.1 L348.8 329.4 L349.2 326.6 L349.5 323.8 L349.7 321.0 L350.1 318.1 L350.4 315.1 L350.5 312.1 L350.7 309.0 L350.8 305.9 L351.0 302.7Z" fill="#fff" stroke="#111" stroke-width="1.9" stroke-linejoin="round"/><path d="M345.5 305.4 L345.2 308.6 L345.0 311.7 L344.8 314.7 L344.6 317.7 L344.4 320.6 L344.2 323.5 L344.0 326.3 L343.9 329.1 L343.7 331.8 L343.5 334.5 L343.4 337.2 L343.2 339.8 L343.0 342.4 L342.8 345.0 L342.6 347.5 L342.4 350.0 L342.2 352.5" fill="none" stroke="#111" stroke-width="1.6" stroke-linecap="round"/>
<path d="M300.3 302.0 L298.5 304.7 L297.0 307.5 L295.4 310.3 L293.9 313.0 L292.7 315.8 L291.5 318.4 L290.3 321.1 L289.4 323.9 L288.4 326.5 L287.5 329.1 L286.8 331.7 L286.0 334.3 L285.5 336.9 L284.8 339.4 L284.3 342.0 L283.8 344.5 L283.2 346.9 L282.6 349.3 L282.1 351.8 L281.4 354.1 L280.9 356.5 L280.2 358.9 L279.5 361.2 L278.7 363.5 L279.4 363.8 L280.6 361.7 L281.9 359.6 L283.2 357.5 L284.4 355.4 L285.7 353.3 L287.0 351.1 L288.3 348.9 L289.6 346.8 L290.9 344.6 L292.2 342.4 L293.5 340.1 L294.7 337.8 L296.0 335.6 L297.4 333.3 L298.7 330.9 L299.8 328.5 L301.2 326.1 L302.5 323.7 L303.9 321.2 L305.1 318.6 L306.4 316.1 L307.7 313.4 L309.2 310.7 L310.7 308.0Z" fill="#fff" stroke="#111" stroke-width="1.9" stroke-linejoin="round"/><path d="M300.8 319.7 L299.6 322.3 L298.3 324.8 L297.1 327.3 L295.9 329.7 L294.7 332.1 L293.6 334.5 L292.5 336.9 L291.3 339.2" fill="none" stroke="#111" stroke-width="1.6" stroke-linecap="round"/><path d="M299.7 312.5 L298.4 315.2 L297.1 317.9 L295.8 320.5 L294.6 323.1 L293.5 325.7 L292.5 328.2 L291.4 330.7 L290.5 333.2 L289.5 335.7 L288.6 338.2 L287.7 340.6 L286.9 343.0" fill="none" stroke="#111" stroke-width="1.6" stroke-linecap="round"/>
<path d="M334.1 303.0 L334.1 305.6 L333.9 308.2 L333.9 310.8 L333.8 313.3 L333.9 315.7 L333.8 318.1 L334.0 320.4 L334.2 322.7 L334.4 325.0 L334.6 327.2 L334.9 329.4 L335.2 331.6 L335.5 333.7 L335.9 335.8 L336.2 337.9 L336.4 339.9 L336.8 342.0 L336.9 344.0 L337.4 346.0 L337.5 348.0 L337.6 350.0 L337.7 352.0 L337.7 354.0 L337.9 356.0 L338.7 356.1 L339.1 354.1 L339.6 352.2 L340.0 350.2 L340.6 348.2 L340.9 346.2 L341.5 344.2 L341.8 342.1 L342.1 340.1 L342.7 338.0 L343.0 335.9 L343.4 333.8 L343.6 331.6 L344.0 329.4 L344.2 327.2 L344.4 325.0 L344.6 322.7 L344.9 320.4 L345.0 318.1 L345.0 315.7 L345.1 313.3 L345.1 310.9 L345.1 308.4 L345.1 305.9 L345.0 303.2Z" fill="#fff" stroke="#111" stroke-width="1.9" stroke-linejoin="round"/><path d="M338.5 315.7 L338.5 318.1 L338.6 320.4 L338.6 322.7 L338.6 325.0 L338.7 327.2 L338.7 329.4 L338.8 331.6 L338.8 333.7 L338.8 335.8 L338.9 337.9 L338.9 340.0 L338.9 342.0 L338.8 344.1 L338.8 346.1" fill="none" stroke="#111" stroke-width="1.6" stroke-linecap="round"/>
<path d="M289.9 294.2 L287.6 296.6 L285.5 299.0 L283.4 301.5 L281.5 304.0 L279.6 306.5 L277.8 309.0 L276.1 311.5 L274.5 314.0 L273.1 316.6 L271.8 319.2 L270.4 321.7 L269.3 324.3 L268.1 326.8 L267.2 329.4 L266.2 331.9 L265.4 334.5 L264.6 337.0 L263.9 339.6 L263.2 342.1 L262.7 344.6 L262.1 347.1 L261.6 349.6 L261.1 352.0 L260.6 354.4 L261.5 354.7 L262.3 352.4 L263.2 350.1 L264.3 347.8 L265.4 345.6 L266.5 343.3 L267.7 341.2 L269.1 339.0 L270.4 336.8 L271.8 334.7 L273.2 332.5 L274.7 330.4 L276.2 328.2 L277.7 326.0 L279.4 323.9 L281.1 321.8 L282.7 319.5 L284.4 317.3 L286.2 315.1 L288.0 312.8 L289.7 310.5 L291.6 308.1 L293.5 305.7 L295.5 303.3 L297.5 300.8Z" fill="#fff" stroke="#111" stroke-width="1.9" stroke-linejoin="round"/><path d="M288.3 305.4 L286.4 307.8 L284.5 310.2 L282.8 312.6 L281.1 315.0 L279.4 317.3 L277.8 319.7 L276.3 322.0 L274.8 324.3 L273.4 326.6 L272.1 329.0 L270.8 331.3 L269.5 333.6 L268.4 335.9" fill="none" stroke="#111" stroke-width="1.6" stroke-linecap="round"/>
<path d="M337.2 303.2 L336.7 305.6 L336.3 308.0 L336.0 310.4 L335.7 312.7 L335.7 315.0 L335.6 317.2 L335.4 319.4 L335.5 321.6 L335.5 323.7 L335.7 325.8 L335.9 327.8 L336.1 329.8 L336.3 331.8 L336.5 333.8 L336.7 335.7 L337.0 337.6 L337.2 339.5 L337.4 341.3 L337.5 343.2 L337.5 345.0 L337.5 346.9 L337.5 348.7 L337.3 350.5 L337.2 352.4 L337.8 352.6 L338.7 350.9 L339.6 349.3 L340.4 347.5 L341.2 345.8 L341.9 344.0 L342.7 342.2 L343.5 340.4 L344.2 338.5 L344.8 336.6 L345.5 334.7 L346.2 332.8 L346.7 330.8 L347.3 328.9 L347.8 326.9 L348.2 324.8 L348.7 322.8 L349.1 320.7 L349.5 318.6 L349.9 316.5 L350.1 314.3 L350.4 312.1 L350.7 309.9 L351.0 307.6 L351.1 305.2Z" fill="#fff" stroke="#111" stroke-width="1.9" stroke-linejoin="round"/><path d="M346.2 306.9 L345.9 309.2 L345.7 311.5 L345.4 313.8 L345.1 316.0 L344.9 318.1 L344.6 320.3 L344.4 322.4 L344.1 324.5 L343.8 326.5 L343.5 328.5 L343.2 330.5 L342.9 332.5 L342.5 334.4 L342.2 336.3 L341.8 338.2 L341.4 340.1" fill="none" stroke="#111" stroke-width="1.6" stroke-linecap="round"/><path d="M340.6 308.6 L340.3 310.9 L340.1 313.2 L339.9 315.4 L339.7 317.6 L339.6 319.8 L339.5 321.9 L339.4 324.0 L339.3 326.1 L339.3 328.1 L339.3 330.1 L339.2 332.1 L339.2 334.1 L339.2 336.0 L339.1 337.9 L339.0 339.7 L338.9 341.6" fill="none" stroke="#111" stroke-width="1.6" stroke-linecap="round"/>
<path d="M321.6 297.1 L320.7 299.6 L319.9 302.0 L319.2 304.4 L318.6 306.7 L317.9 309.0 L317.4 311.4 L316.8 313.6 L316.5 315.9 L316.1 318.2 L315.7 320.4 L315.3 322.6 L315.1 324.8 L315.0 327.0 L314.9 329.2 L314.7 331.4 L314.7 333.5 L314.6 335.6 L314.7 337.8 L314.6 339.8 L314.5 341.9 L314.6 344.0 L314.7 346.0 L314.5 348.0 L314.6 350.0 L315.3 350.2 L316.1 348.3 L316.8 346.4 L317.6 344.6 L318.4 342.7 L319.3 340.9 L320.3 339.1 L321.0 337.3 L322.2 335.5 L323.2 333.7 L324.2 331.8 L325.1 329.9 L326.1 328.0 L327.1 326.1 L328.1 324.1 L329.2 322.1 L329.9 320.0 L331.0 317.9 L331.7 315.7 L332.5 313.5 L333.4 311.2 L334.0 308.8 L334.7 306.4 L335.5 303.9 L336.1 301.3Z" fill="#fff" stroke="#111" stroke-width="1.9" stroke-linejoin="round"/><path d="M330.7 307.8 L329.9 310.2 L329.2 312.5 L328.4 314.7 L327.7 316.9 L326.9 319.1 L326.1 321.2 L325.3 323.3 L324.4 325.3 L323.6 327.3 L322.8 329.2 L322.0 331.2 L321.2 333.1 L320.4 335.0" fill="none" stroke="#111" stroke-width="1.6" stroke-linecap="round"/><path d="M322.5 307.9 L321.8 310.2 L321.2 312.5 L320.6 314.8 L320.0 317.0 L319.5 319.2 L319.0 321.4 L318.5 323.5 L318.1 325.7 L317.7 327.8 L317.3 329.9 L317.0 332.0 L316.7 334.0 L316.4 336.1 L316.1 338.1 L315.8 340.1" fill="none" stroke="#111" stroke-width="1.6" stroke-linecap="round"/>
<path d="M322.1 299.4 L321.5 301.8 L321.0 304.1 L320.4 306.4 L320.0 308.6 L319.5 310.8 L319.3 313.0 L318.9 315.2 L318.7 317.3 L318.4 319.4 L318.3 321.5 L318.0 323.6 L317.9 325.6 L317.9 327.6 L317.8 329.6 L317.9 331.6 L317.9 333.6 L317.9 335.5 L317.8 337.5 L318.0 339.4 L318.0 341.3 L317.9 343.2 L318.1 345.1 L318.1 346.9 L318.0 348.8 L318.9 348.9 L319.3 347.1 L319.8 345.3 L320.4 343.5 L320.9 341.7 L321.5 339.9 L322.0 338.1 L322.6 336.3 L323.3 334.5 L323.9 332.7 L324.5 330.8 L325.1 329.0 L325.7 327.1 L326.5 325.2 L327.0 323.2 L327.7 321.3 L328.2 319.2 L328.9 317.2 L329.4 315.1 L329.9 312.9 L330.4 310.8 L330.8 308.5 L331.3 306.2 L331.7 303.9 L332.1 301.5Z" fill="#fff" stroke="#111" stroke-width="1.9" stroke-linejoin="round"/><path d="M324.4 314.1 L323.9 316.2 L323.5 318.3 L323.1 320.4 L322.7 322.4 L322.3 324.4 L321.9 326.4 L321.6 328.3" fill="none" stroke="#111" stroke-width="1.6" stroke-linecap="round"/>
<path d="M298.9 296.1 L297.4 298.3 L296.1 300.5 L294.7 302.7 L293.3 304.8 L292.1 306.9 L290.9 309.0 L289.8 311.2 L288.8 313.3 L287.9 315.5 L287.0 317.6 L286.1 319.7 L285.3 321.8 L284.6 323.9 L284.0 326.0 L283.2 328.1 L282.8 330.2 L282.2 332.3 L281.5 334.3 L281.1 336.4 L280.4 338.4 L279.9 340.4 L279.4 342.4 L279.0 344.4 L278.4 346.4 L279.2 346.7 L280.3 345.0 L281.3 343.3 L282.4 341.6 L283.8 340.0 L285.0 338.3 L286.3 336.7 L287.5 335.0 L288.9 333.4 L290.3 331.9 L291.6 330.2 L293.0 328.6 L294.4 326.9 L295.7 325.2 L297.2 323.5 L298.6 321.7 L299.8 319.8 L301.2 318.0 L302.6 316.1 L303.9 314.1 L305.2 312.0 L306.6 309.9 L307.8 307.7 L309.1 305.5 L310.5 303.2Z" fill="#fff" stroke="#111" stroke-width="1.9" stroke-linejoin="round"/><path d="M299.2 314.1 L298.0 316.0 L296.7 318.0 L295.5 319.9 L294.2 321.8 L293.0 323.6 L291.8 325.4 L290.6 327.2 L289.4 329.0 L288.2 330.8 L287.1 332.5" fill="none" stroke="#111" stroke-width="1.6" stroke-linecap="round"/><path d="M300.7 300.3 L299.3 302.5 L297.9 304.6 L296.6 306.8 L295.4 308.9 L294.2 311.0 L293.0 313.1 L291.9 315.1 L290.8 317.2 L289.8 319.2 L288.8 321.2 L287.8 323.2 L286.9 325.2 L286.0 327.2 L285.2 329.1 L284.4 331.1 L283.6 333.0 L282.8 335.0 L282.1 336.9" fill="none" stroke="#111" stroke-width="1.6" stroke-linecap="round"/>
<path d="M336.1 301.3 L336.1 303.4 L336.2 305.4 L336.3 307.4 L336.5 309.3 L336.7 311.3 L337.0 313.1 L337.4 314.9 L337.7 316.7 L338.0 318.4 L338.5 320.0 L339.0 321.7 L339.5 323.3 L340.0 324.8 L340.4 326.4 L340.9 327.9 L341.3 329.4 L341.7 330.9 L342.2 332.4 L342.5 333.9 L342.9 335.4 L343.2 336.9 L343.4 338.4 L343.3 339.9 L343.4 341.4 L344.1 341.5 L344.6 340.1 L345.1 338.6 L345.5 337.0 L345.9 335.5 L346.2 333.9 L346.6 332.3 L347.0 330.7 L347.2 329.1 L347.5 327.4 L347.7 325.8 L347.9 324.1 L348.0 322.4 L348.2 320.6 L348.3 318.9 L348.2 317.2 L348.2 315.4 L348.1 313.6 L348.2 311.8 L348.0 310.0 L347.8 308.2 L347.6 306.4 L347.5 304.5 L347.2 302.6 L347.1 300.6Z" fill="#fff" stroke="#111" stroke-width="1.9" stroke-linejoin="round"/><path d="M343.3 308.7 L343.5 310.5 L343.7 312.3 L343.9 314.1 L344.0 315.9 L344.2 317.6 L344.4 319.3 L344.5 321.0 L344.6 322.7 L344.7 324.4 L344.8 326.0 L344.9 327.6 L344.9 329.2 L344.9 330.8 L344.9 332.4" fill="none" stroke="#111" stroke-width="1.6" stroke-linecap="round"/>
<path d="M295.1 296.1 L293.2 297.8 L291.2 299.3 L289.4 301.0 L287.7 302.8 L285.9 304.5 L284.3 306.2 L282.8 308.1 L281.4 310.0 L280.0 311.9 L278.9 313.9 L277.7 315.8 L276.7 317.8 L275.8 319.8 L275.0 321.8 L274.2 323.8 L273.6 325.8 L272.9 327.7 L272.4 329.8 L271.9 331.7 L271.7 333.7 L271.3 335.6 L271.1 337.5 L270.9 339.4 L271.0 341.3 L271.6 341.5 L272.2 339.7 L272.9 338.0 L273.6 336.2 L274.5 334.6 L275.2 332.9 L276.3 331.3 L277.3 329.7 L278.3 328.2 L279.5 326.7 L280.8 325.2 L282.1 323.7 L283.3 322.2 L284.7 320.8 L286.2 319.4 L287.4 317.8 L289.0 316.4 L290.4 314.9 L292.0 313.4 L293.5 311.8 L295.0 310.2 L296.6 308.7 L298.3 307.1 L300.0 305.5 L301.7 303.9Z" fill="#fff" stroke="#111" stroke-width="1.9" stroke-linejoin="round"/><path d="M292.0 307.2 L290.4 308.9 L288.9 310.5 L287.3 312.1 L285.9 313.8 L284.5 315.4 L283.1 317.1 L281.9 318.7 L280.6 320.4 L279.5 322.1 L278.4 323.8 L277.4 325.5 L276.4 327.2 L275.5 328.9 L274.7 330.7" fill="none" stroke="#111" stroke-width="1.6" stroke-linecap="round"/>
<path d="M309.7 295.3 L308.4 297.2 L307.1 299.1 L306.1 301.1 L304.9 302.9 L304.0 304.9 L302.9 306.8 L302.0 308.7 L301.0 310.6 L300.3 312.5 L299.5 314.5 L298.9 316.4 L298.3 318.4 L297.7 320.3 L297.2 322.3 L296.8 324.2 L296.4 326.1 L296.0 328.1 L295.9 330.0 L295.6 331.9 L295.3 333.7 L295.2 335.6 L295.0 337.4 L294.9 339.3 L294.8 341.1 L295.5 341.2 L296.3 339.6 L297.1 338.0 L297.9 336.4 L298.7 334.9 L299.8 333.4 L300.7 331.9 L301.8 330.5 L303.0 329.1 L304.1 327.6 L305.2 326.2 L306.5 324.8 L307.7 323.3 L308.9 321.8 L310.1 320.3 L311.4 318.7 L312.5 317.1 L313.7 315.4 L315.0 313.8 L316.0 311.9 L317.3 310.1 L318.3 308.1 L319.4 306.1 L320.6 304.1 L321.5 302.0Z" fill="#fff" stroke="#111" stroke-width="1.9" stroke-linejoin="round"/><path d="M312.5 309.9 L311.4 311.7 L310.3 313.5 L309.2 315.2 L308.1 316.9 L307.0 318.6 L306.0 320.3 L304.9 321.9 L303.9 323.5 L302.9 325.1 L302.0 326.6 L301.1 328.2 L300.2 329.8 L299.3 331.4 L298.5 333.0" fill="none" stroke="#111" stroke-width="1.6" stroke-linecap="round"/><path d="M306.0 308.6 L305.0 310.5 L304.1 312.3 L303.2 314.2 L302.3 316.0 L301.5 317.8 L300.7 319.7 L300.0 321.5 L299.3 323.3 L298.7 325.1 L298.1 326.9 L297.6 328.7" fill="none" stroke="#111" stroke-width="1.6" stroke-linecap="round"/>
<path d="M332.5 299.5 L332.3 301.5 L332.1 303.5 L332.0 305.4 L331.9 307.3 L332.0 309.2 L332.0 311.0 L332.1 312.8 L332.3 314.5 L332.5 316.2 L332.6 317.9 L332.9 319.6 L333.2 321.2 L333.6 322.8 L333.8 324.4 L334.2 325.9 L334.5 327.5 L334.9 329.0 L335.0 330.5 L335.3 332.0 L335.6 333.5 L335.8 335.0 L336.0 336.5 L336.0 338.0 L336.1 339.6 L336.8 339.7 L337.4 338.2 L337.9 336.8 L338.5 335.3 L338.9 333.8 L339.4 332.3 L339.9 330.8 L340.3 329.3 L340.9 327.8 L341.3 326.2 L341.8 324.6 L342.1 323.0 L342.5 321.4 L343.0 319.8 L343.2 318.1 L343.5 316.5 L343.7 314.8 L344.1 313.1 L344.3 311.3 L344.4 309.5 L344.5 307.8 L344.5 305.9 L344.5 304.1 L344.6 302.2 L344.7 300.3Z" fill="#fff" stroke="#111" stroke-width="1.9" stroke-linejoin="round"/><path d="M340.4 309.4 L340.3 311.2 L340.2 313.0 L340.1 314.7 L340.0 316.4 L339.8 318.1 L339.7 319.7 L339.5 321.3 L339.4 322.9 L339.2 324.5 L339.0 326.1 L338.8 327.7" fill="none" stroke="#111" stroke-width="1.6" stroke-linecap="round"/><path d="M334.5 311.1 L334.5 312.8 L334.6 314.6 L334.7 316.3 L334.8 317.9 L334.9 319.6 L335.1 321.2 L335.3 322.8 L335.4 324.4 L335.6 326.0" fill="none" stroke="#111" stroke-width="1.6" stroke-linecap="round"/>
<path d="M314.8 295.8 L313.9 297.7 L313.0 299.5 L312.3 301.4 L311.7 303.3 L311.0 305.1 L310.5 306.9 L310.0 308.7 L309.7 310.5 L309.4 312.3 L309.2 314.1 L309.0 315.8 L308.9 317.6 L308.9 319.3 L308.7 321.0 L308.8 322.7 L308.8 324.4 L308.8 326.1 L308.7 327.7 L308.7 329.3 L308.8 330.9 L308.8 332.5 L308.7 334.1 L308.7 335.7 L308.5 337.2 L309.3 337.5 L310.1 336.1 L310.8 334.7 L311.6 333.3 L312.3 331.9 L313.2 330.6 L314.0 329.2 L315.0 327.8 L315.8 326.4 L316.8 325.0 L317.6 323.6 L318.6 322.2 L319.4 320.8 L320.3 319.3 L321.1 317.8 L321.9 316.3 L322.7 314.8 L323.5 313.2 L324.2 311.6 L324.9 310.0 L325.6 308.3 L326.2 306.5 L326.8 304.8 L327.4 303.0 L328.1 301.1Z" fill="#fff" stroke="#111" stroke-width="1.9" stroke-linejoin="round"/><path d="M320.3 306.4 L319.7 308.1 L319.0 309.8 L318.4 311.5 L317.8 313.2 L317.2 314.8 L316.6 316.4 L316.0 318.0 L315.4 319.6 L314.9 321.1 L314.3 322.6 L313.7 324.2 L313.2 325.7 L312.6 327.2 L312.1 328.6 L311.6 330.1" fill="none" stroke="#111" stroke-width="1.6" stroke-linecap="round"/><path d="M315.6 302.6 L314.9 304.4 L314.3 306.2 L313.8 308.0 L313.3 309.8 L312.8 311.5 L312.4 313.3 L312.0 315.0 L311.7 316.7 L311.4 318.3 L311.1 320.0 L310.9 321.6 L310.7 323.3 L310.5 324.9" fill="none" stroke="#111" stroke-width="1.6" stroke-linecap="round"/>
<path d="M317.9 302.7 L317.5 304.3 L316.9 305.9 L316.7 307.4 L316.2 309.0 L316.1 310.5 L315.8 312.0 L315.7 313.5 L315.7 314.9 L315.6 316.3 L315.6 317.8 L315.7 319.2 L315.8 320.6 L315.9 321.9 L316.2 323.3 L316.3 324.7 L316.4 326.0 L316.6 327.3 L316.7 328.6 L316.8 329.9 L317.1 331.2 L317.1 332.5 L317.1 333.8 L317.1 335.1 L317.1 336.3 L317.8 336.6 L318.5 335.5 L319.2 334.4 L319.8 333.2 L320.5 332.1 L321.3 331.0 L322.0 329.9 L322.8 328.7 L323.5 327.5 L324.2 326.4 L324.8 325.1 L325.5 323.9 L326.2 322.7 L326.9 321.4 L327.5 320.1 L328.0 318.8 L328.5 317.5 L329.1 316.2 L329.5 314.7 L329.8 313.3 L330.4 311.9 L330.6 310.4 L330.9 308.9 L331.1 307.4 L331.3 305.8Z" fill="#fff" stroke="#111" stroke-width="1.9" stroke-linejoin="round"/><path d="M326.9 308.0 L326.6 309.6 L326.3 311.1 L325.9 312.5 L325.6 314.0 L325.2 315.4 L324.9 316.8 L324.5 318.1 L324.1 319.5 L323.7 320.8 L323.2 322.1 L322.8 323.3 L322.3 324.6 L321.9 325.9 L321.4 327.1 L320.9 328.3" fill="none" stroke="#111" stroke-width="1.6" stroke-linecap="round"/><path d="M321.2 310.0 L320.9 311.5 L320.6 313.0 L320.4 314.4 L320.2 315.8 L320.0 317.2 L319.8 318.6 L319.6 320.0 L319.5 321.3 L319.3 322.6" fill="none" stroke="#111" stroke-width="1.6" stroke-linecap="round"/>
<path d="M341.8 302.3 L341.5 303.9 L341.4 305.5 L341.2 307.1 L341.2 308.6 L341.3 310.1 L341.4 311.6 L341.4 313.0 L341.8 314.4 L342.0 315.7 L342.3 317.0 L342.6 318.3 L343.2 319.5 L343.4 320.7 L343.9 321.9 L344.4 323.1 L344.7 324.3 L345.1 325.4 L345.5 326.6 L345.7 327.7 L346.0 328.9 L346.1 330.0 L346.2 331.2 L346.4 332.4 L346.2 333.5 L347.0 333.8 L347.8 332.8 L348.5 331.8 L349.1 330.7 L349.8 329.6 L350.4 328.5 L351.1 327.3 L351.7 326.1 L352.4 324.9 L352.9 323.6 L353.4 322.4 L353.9 321.1 L354.3 319.8 L354.9 318.4 L355.2 317.1 L355.5 315.8 L355.9 314.5 L356.1 313.1 L356.2 311.8 L356.4 310.4 L356.4 309.1 L356.6 307.7 L356.5 306.3 L356.6 304.9 L356.5 303.4Z" fill="#fff" stroke="#111" stroke-width="1.9" stroke-linejoin="round"/><path d="M351.9 304.6 L351.8 306.1 L351.7 307.5 L351.7 308.9 L351.6 310.3 L351.6 311.7 L351.5 313.1 L351.4 314.4 L351.3 315.8 L351.1 317.1 L351.0 318.4 L350.8 319.7 L350.6 321.0" fill="none" stroke="#111" stroke-width="1.6" stroke-linecap="round"/><path d="M345.3 310.2 L345.3 311.6 L345.4 313.0 L345.5 314.4 L345.6 315.7 L345.8 317.0 L345.9 318.3 L346.1 319.6 L346.3 320.8 L346.4 322.0 L346.6 323.2" fill="none" stroke="#111" stroke-width="1.6" stroke-linecap="round"/>
<path d="M299.7 294.4 L298.5 295.9 L297.2 297.5 L296.2 299.1 L295.1 300.7 L294.1 302.3 L293.0 303.8 L292.1 305.5 L291.3 307.1 L290.5 308.7 L289.8 310.3 L289.1 311.9 L288.4 313.5 L288.0 315.2 L287.4 316.8 L286.9 318.4 L286.3 320.0 L286.0 321.6 L285.6 323.2 L285.2 324.8 L284.7 326.3 L284.4 327.9 L284.0 329.4 L283.6 330.9 L283.3 332.4 L283.9 332.7 L284.8 331.4 L285.7 330.2 L286.7 329.0 L287.6 327.8 L288.7 326.6 L289.8 325.4 L290.8 324.3 L291.8 323.1 L292.9 321.9 L294.1 320.8 L295.2 319.6 L296.3 318.4 L297.5 317.2 L298.6 315.9 L299.7 314.7 L301.0 313.5 L302.1 312.1 L303.0 310.6 L304.1 309.2 L305.2 307.7 L306.3 306.2 L307.5 304.7 L308.5 303.0 L309.6 301.3Z" fill="#fff" stroke="#111" stroke-width="1.9" stroke-linejoin="round"/><path d="M300.1 306.5 L299.1 308.0 L298.1 309.4 L297.1 310.9 L296.1 312.3 L295.1 313.7 L294.2 315.1 L293.2 316.5 L292.3 317.8 L291.4 319.2 L290.5 320.5 L289.7 321.9 L288.9 323.2 L288.0 324.5 L287.3 325.9" fill="none" stroke="#111" stroke-width="1.6" stroke-linecap="round"/><path d="M296.2 303.8 L295.2 305.3 L294.2 306.9 L293.3 308.4 L292.4 310.0 L291.6 311.5 L290.9 313.0 L290.1 314.6 L289.4 316.1 L288.8 317.6 L288.1 319.1" fill="none" stroke="#111" stroke-width="1.6" stroke-linecap="round"/>
<path d="M314.3 296.8 L313.7 298.4 L312.9 300.0 L312.4 301.6 L311.8 303.1 L311.2 304.6 L310.8 306.2 L310.3 307.7 L310.0 309.2 L309.8 310.7 L309.5 312.1 L309.2 313.6 L309.1 315.0 L308.9 316.5 L308.8 317.9 L308.8 319.3 L308.7 320.7 L308.6 322.1 L308.4 323.4 L308.3 324.8 L308.3 326.1 L308.0 327.4 L307.9 328.8 L307.7 330.1 L307.4 331.4 L308.2 331.7 L308.9 330.6 L309.7 329.5 L310.3 328.3 L311.2 327.2 L311.9 326.1 L312.7 324.9 L313.5 323.8 L314.2 322.6 L315.0 321.4 L315.8 320.3 L316.6 319.1 L317.4 317.8 L318.1 316.6 L318.8 315.3 L319.5 314.0 L320.2 312.7 L320.8 311.4 L321.4 310.0 L322.1 308.6 L322.6 307.2 L323.2 305.7 L323.7 304.2 L324.2 302.6 L324.8 301.0Z" fill="#fff" stroke="#111" stroke-width="1.9" stroke-linejoin="round"/><path d="M317.7 305.3 L317.2 306.8 L316.6 308.3 L316.1 309.7 L315.6 311.1 L315.1 312.5 L314.6 313.9 L314.1 315.2 L313.6 316.6 L313.1 317.9 L312.7 319.2" fill="none" stroke="#111" stroke-width="1.6" stroke-linecap="round"/>
<path d="M353.9 302.5 L357.0 304.0 L360.2 305.2 L363.3 306.6 L366.4 307.9 L369.6 309.2 L372.8 310.4 L376.0 311.5 L379.2 312.8 L382.4 313.9 L385.6 314.8 L388.8 315.9 L392.0 316.7 L395.2 317.8 L398.4 318.5 L401.5 319.5 L404.7 320.2 L407.8 320.9 L410.9 321.5 L414.0 322.1 L417.0 322.7 L420.1 323.2 L423.1 323.6 L426.0 324.0 L428.9 324.4 L429.1 323.7 L426.3 322.8 L423.4 322.0 L420.5 321.2 L417.7 320.3 L414.8 319.2 L411.9 318.1 L409.0 317.0 L406.0 315.9 L403.1 314.6 L400.2 313.4 L397.2 312.0 L394.3 310.8 L391.3 309.4 L388.3 308.0 L385.3 306.6 L382.3 305.2 L379.3 303.8 L376.3 302.2 L373.3 300.8 L370.2 299.4 L367.2 298.0 L364.2 296.4 L361.2 294.9 L358.1 293.4Z" fill="#fff" stroke="#111" stroke-width="1.9" stroke-linejoin="round"/><path d="M374.8 305.8 L377.9 307.1 L381.0 308.4 L384.1 309.7 L387.1 311.0 L390.2 312.2 L393.3 313.4 L396.3 314.5 L399.4 315.6 L402.4 316.7 L405.5 317.7 L408.5 318.7" fill="none" stroke="#111" stroke-width="1.6" stroke-linecap="round"/>
<path d="M348.9 308.6 L351.3 310.1 L353.8 311.7 L356.3 313.2 L358.8 314.7 L361.3 316.1 L363.9 317.5 L366.4 318.8 L369.0 320.1 L371.4 321.5 L373.9 322.8 L376.5 324.0 L379.0 325.2 L381.4 326.4 L383.8 327.7 L386.3 328.9 L388.7 330.1 L390.9 331.5 L393.2 332.8 L395.4 334.1 L397.6 335.5 L399.8 336.8 L401.8 338.2 L403.8 339.7 L405.7 341.3 L406.3 340.7 L404.7 338.8 L403.0 336.9 L401.1 335.2 L399.3 333.3 L397.4 331.5 L395.5 329.6 L393.4 328.0 L391.4 326.0 L389.3 324.3 L387.2 322.6 L384.9 321.0 L382.7 319.2 L380.5 317.5 L378.1 315.9 L375.9 314.1 L373.6 312.5 L371.3 310.9 L368.9 309.3 L366.6 307.7 L364.3 306.1 L361.9 304.5 L359.7 302.7 L357.4 301.1 L355.1 299.5Z" fill="#fff" stroke="#111" stroke-width="1.9" stroke-linejoin="round"/><path d="M364.7 310.6 L367.1 312.2 L369.5 313.7 L371.9 315.2 L374.3 316.8 L376.7 318.3 L379.0 319.8 L381.4 321.3 L383.7 322.9 L386.0 324.4 L388.2 326.0 L390.4 327.6 L392.6 329.2 L394.7 330.8" fill="none" stroke="#111" stroke-width="1.6" stroke-linecap="round"/>
<path d="M344.2 311.3 L346.1 313.3 L347.9 315.3 L349.9 317.2 L352.0 319.0 L354.2 320.7 L356.3 322.5 L358.5 324.0 L360.6 325.7 L362.8 327.2 L365.0 328.6 L367.2 330.0 L369.5 331.3 L371.8 332.6 L374.0 333.9 L376.1 335.2 L378.3 336.5 L380.5 337.7 L382.6 338.9 L384.8 340.1 L386.8 341.3 L388.9 342.6 L390.9 343.7 L392.9 345.0 L394.7 346.4 L395.3 345.7 L393.6 344.1 L391.9 342.5 L390.2 340.8 L388.4 339.3 L386.5 337.7 L384.8 336.0 L382.8 334.4 L381.0 332.7 L379.0 331.1 L377.2 329.4 L375.2 327.7 L373.3 326.0 L371.3 324.5 L369.4 322.7 L367.6 321.0 L365.6 319.3 L363.8 317.6 L362.1 315.7 L360.2 314.1 L358.5 312.2 L356.7 310.5 L355.0 308.6 L353.5 306.6 L351.7 304.8Z" fill="#fff" stroke="#111" stroke-width="1.9" stroke-linejoin="round"/><path d="M354.3 312.8 L356.2 314.7 L358.0 316.4 L360.0 318.2 L361.9 319.9 L363.9 321.5 L365.9 323.2 L367.9 324.8 L369.9 326.4 L371.9 327.9 L374.0 329.5 L376.0 331.0 L378.0 332.5 L380.0 334.0 L382.0 335.5 L384.0 337.0" fill="none" stroke="#111" stroke-width="1.6" stroke-linecap="round"/>
<path d="M357.9 305.5 L361.0 307.2 L364.0 308.9 L367.1 310.6 L370.1 312.5 L373.3 314.2 L376.4 316.1 L379.5 317.9 L382.7 319.7 L385.9 321.3 L389.1 323.0 L392.3 324.6 L395.6 326.0 L398.8 327.4 L402.0 328.8 L405.2 329.9 L408.4 330.9 L411.6 331.8 L414.8 332.4 L417.9 333.0 L421.0 333.2 L424.1 333.4 L427.1 333.2 L430.1 332.9 L433.1 332.4 L433.0 331.6 L430.0 331.8 L427.1 331.8 L424.2 331.5 L421.3 331.0 L418.4 330.5 L415.5 329.6 L412.6 328.4 L409.7 327.3 L406.8 326.0 L403.8 324.6 L400.8 323.1 L397.9 321.4 L394.9 319.7 L392.0 317.8 L389.0 315.9 L386.1 314.0 L383.0 312.1 L380.1 310.1 L377.0 308.1 L374.0 306.2 L371.1 304.1 L368.0 302.3 L365.1 300.3 L362.0 298.6Z" fill="#fff" stroke="#111" stroke-width="1.9" stroke-linejoin="round"/>
<path d="M340.1 308.3 L341.3 310.3 L342.6 312.2 L344.1 314.1 L345.4 316.0 L346.9 317.8 L348.4 319.5 L350.0 321.2 L351.5 322.9 L353.0 324.6 L354.6 326.1 L356.1 327.8 L357.7 329.3 L359.3 330.8 L360.9 332.3 L362.4 333.7 L364.0 335.2 L365.4 336.7 L366.8 338.2 L368.4 339.6 L369.7 341.1 L371.0 342.6 L372.3 344.1 L373.5 345.7 L374.6 347.2 L375.4 346.8 L374.6 345.0 L373.6 343.2 L372.6 341.5 L371.6 339.7 L370.6 337.9 L369.5 336.1 L368.3 334.4 L367.1 332.6 L365.9 330.8 L364.7 329.0 L363.4 327.3 L362.3 325.4 L360.9 323.7 L359.8 321.8 L358.4 320.1 L357.2 318.3 L355.9 316.5 L354.6 314.7 L353.5 312.9 L352.3 311.1 L351.2 309.2 L350.0 307.5 L348.9 305.6 L347.9 303.7Z" fill="#fff" stroke="#111" stroke-width="1.9" stroke-linejoin="round"/><path d="M351.8 316.9 L353.2 318.7 L354.6 320.4 L356.0 322.1 L357.4 323.8 L358.8 325.5 L360.2 327.2 L361.6 328.8 L363.0 330.5 L364.3 332.1 L365.7 333.8 L367.0 335.4 L368.3 337.1 L369.5 338.7" fill="none" stroke="#111" stroke-width="1.6" stroke-linecap="round"/>
<path d="M362.6 303.2 L365.2 304.3 L367.8 305.4 L370.3 306.6 L372.8 307.9 L375.2 309.4 L377.7 310.7 L380.1 312.2 L382.5 313.7 L384.8 315.3 L387.2 316.8 L389.5 318.4 L391.9 320.0 L394.2 321.6 L396.6 323.1 L398.9 324.7 L401.3 326.1 L403.6 327.6 L405.9 329.1 L408.2 330.5 L410.6 331.8 L412.8 333.1 L415.2 334.2 L417.5 335.3 L419.8 336.4 L420.2 335.6 L418.0 334.3 L415.8 333.1 L413.7 331.7 L411.6 330.2 L409.5 328.6 L407.4 327.0 L405.3 325.2 L403.3 323.4 L401.1 321.7 L399.0 319.9 L396.9 318.1 L394.7 316.3 L392.6 314.3 L390.4 312.5 L388.1 310.7 L385.7 309.0 L383.4 307.2 L381.1 305.4 L378.5 303.9 L376.0 302.3 L373.4 300.8 L370.8 299.3 L368.1 298.0 L365.4 296.8Z" fill="#fff" stroke="#111" stroke-width="1.9" stroke-linejoin="round"/>
<path d="M333.7 307.3 L334.3 309.3 L335.1 311.5 L336.1 313.5 L337.2 315.4 L338.3 317.3 L339.5 319.1 L340.8 320.8 L341.9 322.6 L343.3 324.2 L344.7 325.8 L345.9 327.4 L347.3 328.9 L348.5 330.5 L349.8 332.0 L351.2 333.4 L352.4 334.9 L353.6 336.3 L354.8 337.8 L355.8 339.3 L356.8 340.8 L357.7 342.3 L358.5 343.8 L359.1 345.4 L359.7 347.1 L360.4 346.9 L360.2 345.2 L359.9 343.4 L359.4 341.6 L359.0 339.7 L358.3 338.0 L357.5 336.2 L356.7 334.4 L355.8 332.7 L355.1 330.8 L354.0 329.1 L353.1 327.3 L352.1 325.5 L351.0 323.8 L350.0 322.0 L349.1 320.3 L348.0 318.6 L347.1 316.8 L346.3 315.1 L345.5 313.4 L344.7 311.6 L344.0 310.0 L343.3 308.3 L342.7 306.6 L342.3 304.7Z" fill="#fff" stroke="#111" stroke-width="1.9" stroke-linejoin="round"/><path d="M342.1 317.6 L343.2 319.3 L344.3 321.0 L345.5 322.7 L346.7 324.4 L347.9 326.0 L349.1 327.6 L350.3 329.3 L351.5 330.8 L352.6 332.4 L353.7 334.0 L354.8 335.6 L355.8 337.2 L356.7 338.8" fill="none" stroke="#111" stroke-width="1.6" stroke-linecap="round"/>
<path d="M263.9 337.1 L261.4 340.0 L258.9 342.9 L256.5 345.6 L254.1 348.2 L251.8 350.8 L249.6 353.4 L247.3 356.2 L245.2 359.0 L243.3 362.3 L241.6 365.8 L240.0 369.5 L238.6 373.2 L237.3 377.0 L236.2 380.9 L235.4 384.8 L234.9 388.7 L234.5 392.6 L234.2 396.4 L234.0 400.1 L233.8 403.8 L233.5 407.4 L233.2 411.0 L232.8 414.7 L232.3 418.4 L232.3 418.4 L234.1 415.1 L235.8 411.8 L237.3 408.3 L238.6 404.8 L239.9 401.3 L241.2 397.8 L242.5 394.4 L243.9 391.1 L245.3 388.0 L246.9 385.0 L248.6 382.1 L250.5 379.3 L252.5 376.6 L254.7 374.0 L257.0 371.3 L259.3 368.5 L261.2 365.3 L262.9 361.9 L264.5 358.3 L265.7 354.5 L266.7 350.7 L267.5 346.9 L268.1 343.0 L268.5 339.2Z" fill="#fff" stroke="#111" stroke-width="1.9" stroke-linejoin="round"/><path d="M263.9 349.3 L262.5 352.8 L260.9 356.2 L259.2 359.5 L257.3 362.7 L255.3 365.8 L253.2 368.8 L251.1 371.7 L249.0 374.6 L247.2 377.6 L245.4 380.7 L243.9 383.8 L242.5 387.1 L241.3 390.5 L240.3 393.9 L239.2 397.4 L238.3 401.0" fill="none" stroke="#111" stroke-width="1.6" stroke-linecap="round"/><path d="M259.4 347.0 L257.4 350.0 L255.4 352.9 L253.3 355.8 L251.2 358.7 L249.1 361.7 L247.2 364.8 L245.3 368.1 L243.5 371.5 L241.9 374.9 L240.5 378.5 L239.2 382.1 L238.2 385.7 L237.4 389.4 L236.7 393.1 L236.1 396.8 L235.6 400.4" fill="none" stroke="#111" stroke-width="1.6" stroke-linecap="round"/>
<path d="M267.1 350.1 L265.2 352.0 L263.4 354.1 L261.9 356.5 L260.5 358.8 L259.4 361.2 L258.3 363.5 L257.3 365.6 L256.4 367.6 L255.7 369.5 L254.9 371.4 L253.9 373.4 L252.7 375.3 L251.3 377.3 L249.8 379.4 L248.3 381.5 L246.9 383.8 L245.5 386.2 L244.4 388.7 L243.6 391.2 L243.0 393.8 L242.6 396.4 L242.5 399.0 L242.4 401.6 L242.5 404.2 L242.5 404.2 L243.3 401.7 L244.0 399.3 L244.8 396.9 L245.8 394.7 L246.9 392.6 L248.2 390.6 L249.6 388.8 L251.2 387.1 L252.9 385.5 L254.8 383.9 L256.8 382.2 L258.7 380.4 L260.7 378.5 L262.5 376.4 L264.2 374.1 L265.6 371.6 L266.5 369.0 L267.2 366.3 L267.6 363.7 L267.9 361.2 L268.2 358.8 L268.5 356.4 L269.0 354.1 L269.7 351.7Z" fill="#fff" stroke="#111" stroke-width="1.9" stroke-linejoin="round"/><path d="M265.0 357.6 L264.2 360.0 L263.5 362.5 L262.7 364.9 L261.9 367.3 L261.0 369.6 L259.9 371.8 L258.7 373.9 L257.3 375.9 L255.7 377.8 L254.0 379.7 L252.3 381.6 L250.6 383.5 L249.0 385.5 L247.6 387.5 L246.3 389.6 L245.2 391.9" fill="none" stroke="#111" stroke-width="1.6" stroke-linecap="round"/>
<path d="M281.0 350.8 L278.8 351.9 L276.7 353.1 L274.6 354.4 L272.7 356.0 L270.9 357.8 L269.3 359.8 L268.0 361.9 L266.9 364.1 L266.1 366.3 L265.4 368.4 L264.8 370.5 L264.1 372.4 L263.3 374.3 L262.4 376.1 L261.4 377.9 L260.2 379.7 L258.9 381.5 L257.5 383.3 L256.1 385.1 L254.8 387.0 L253.6 389.0 L252.5 391.1 L251.6 393.2 L250.9 395.4 L250.9 395.4 L252.2 393.6 L253.7 391.9 L255.2 390.3 L256.8 388.8 L258.5 387.3 L260.3 385.9 L262.1 384.5 L263.9 383.0 L265.6 381.4 L267.3 379.6 L268.9 377.8 L270.3 375.8 L271.6 373.8 L272.9 371.8 L274.0 369.7 L275.0 367.8 L275.8 365.8 L276.6 364.0 L277.4 362.1 L278.2 360.3 L279.1 358.5 L280.2 356.7 L281.4 354.8 L282.7 352.9Z" fill="#fff" stroke="#111" stroke-width="1.9" stroke-linejoin="round"/><path d="M276.9 356.5 L275.4 358.2 L274.1 360.0 L273.0 361.9 L271.9 363.9 L270.9 365.9 L270.0 368.0 L269.1 370.1 L268.2 372.1 L267.2 374.1 L266.1 376.1 L264.8 377.9 L263.5 379.6 L262.0 381.3 L260.5 383.0 L258.9 384.6 L257.3 386.2" fill="none" stroke="#111" stroke-width="1.6" stroke-linecap="round"/>
<path d="M257.2 386.2 L257.5 389.5 L257.8 392.7 L257.9 395.8 L257.9 398.9 L257.8 402.0 L257.6 405.1 L257.4 408.2 L257.1 411.3 L256.9 414.6 L256.9 417.8 L256.9 421.1 L257.0 424.5 L257.2 427.8 L257.6 431.1 L258.1 434.4 L258.8 437.6 L259.5 440.8 L260.3 444.0 L261.1 447.1 L261.8 450.3 L262.4 453.4 L262.8 456.6 L263.1 459.8 L263.3 463.0 L263.3 463.0 L263.7 459.8 L263.9 456.5 L263.9 453.3 L263.8 450.0 L263.5 446.7 L263.2 443.5 L262.9 440.2 L262.6 437.0 L262.4 433.9 L262.3 430.8 L262.3 427.6 L262.5 424.6 L262.8 421.4 L263.2 418.3 L263.7 415.1 L264.1 411.8 L264.2 408.5 L264.1 405.2 L263.9 401.8 L263.3 398.4 L262.6 395.1 L261.6 391.9 L260.5 388.8 L259.3 385.7Z" fill="#fff" stroke="#111" stroke-width="1.9" stroke-linejoin="round"/>
<path d="M264.1 391.9 L263.5 394.0 L262.9 396.2 L262.3 398.4 L261.9 400.7 L261.7 403.1 L261.7 405.5 L262.0 407.9 L262.5 410.2 L263.4 412.3 L264.5 414.3 L265.5 416.1 L266.4 417.9 L267.3 419.7 L267.9 421.4 L268.5 423.2 L268.8 425.0 L269.0 427.0 L269.0 429.0 L268.9 431.1 L268.7 433.2 L268.5 435.4 L268.4 437.6 L268.4 439.8 L268.5 441.9 L268.5 441.9 L269.2 439.9 L269.9 437.9 L270.7 435.9 L271.6 433.9 L272.4 431.8 L273.2 429.7 L273.8 427.5 L274.3 425.1 L274.5 422.7 L274.5 420.3 L274.3 417.9 L274.0 415.5 L273.5 413.3 L273.0 411.1 L272.5 409.0 L272.0 407.2 L271.4 405.4 L270.8 403.8 L270.2 402.1 L269.6 400.2 L269.1 398.3 L268.5 396.2 L267.8 394.0 L267.1 391.8Z" fill="#fff" stroke="#111" stroke-width="1.9" stroke-linejoin="round"/><path d="M265.7 398.3 L265.8 400.5 L265.9 402.6 L266.3 404.6 L266.7 406.7 L267.3 408.7 L268.0 410.7 L268.7 412.7 L269.5 414.7 L270.2 416.7 L270.8 418.8 L271.2 420.9 L271.5 423.0 L271.6 425.1 L271.4 427.2 L271.1 429.3 L270.7 431.4" fill="none" stroke="#111" stroke-width="1.6" stroke-linecap="round"/>
<path d="M252.5 399.4 L251.1 401.3 L249.8 403.3 L248.6 405.5 L247.6 407.7 L246.7 410.0 L246.0 412.3 L245.4 414.6 L245.0 416.9 L244.7 419.2 L244.5 421.4 L244.2 423.5 L243.8 425.7 L243.3 427.8 L242.8 430.0 L242.1 432.2 L241.5 434.4 L240.8 436.6 L240.2 438.9 L239.6 441.2 L239.1 443.5 L238.8 445.9 L238.6 448.2 L238.5 450.6 L238.5 452.9 L238.5 452.9 L239.1 450.6 L239.6 448.4 L240.3 446.2 L241.1 444.1 L242.0 442.0 L242.9 439.9 L244.0 437.9 L245.0 435.8 L246.1 433.8 L247.1 431.6 L248.2 429.5 L249.1 427.3 L249.9 425.0 L250.7 422.7 L251.3 420.4 L251.9 418.1 L252.2 415.8 L252.4 413.5 L252.6 411.3 L252.8 409.1 L253.1 406.9 L253.4 404.7 L253.8 402.5 L254.4 400.2Z" fill="#fff" stroke="#111" stroke-width="1.9" stroke-linejoin="round"/>
<path d="M279.3 361.7 L278.1 363.0 L276.9 364.2 L275.8 365.3 L274.6 366.4 L273.4 367.5 L272.2 368.6 L271.1 369.8 L269.9 371.1 L268.9 372.6 L268.1 374.3 L267.3 376.0 L266.6 377.8 L266.0 379.6 L265.5 381.4 L265.2 383.2 L264.9 384.9 L264.7 386.7 L264.5 388.4 L264.3 390.0 L264.1 391.7 L263.8 393.3 L263.4 394.9 L263.0 396.5 L262.5 398.2 L262.5 398.2 L263.6 396.8 L264.5 395.4 L265.5 393.9 L266.3 392.4 L267.1 390.8 L267.8 389.2 L268.5 387.7 L269.1 386.1 L269.8 384.6 L270.6 383.2 L271.3 381.9 L272.2 380.6 L273.1 379.4 L274.1 378.3 L275.2 377.2 L276.2 376.0 L277.2 374.6 L278.1 373.1 L279.0 371.5 L279.7 369.9 L280.4 368.1 L280.8 366.3 L281.2 364.5 L281.5 362.8Z" fill="#fff" stroke="#111" stroke-width="1.9" stroke-linejoin="round"/><path d="M278.1 366.7 L277.2 368.1 L276.2 369.5 L275.2 370.9 L274.1 372.2 L273.1 373.5 L272.1 374.9 L271.1 376.3 L270.2 377.7 L269.4 379.2 L268.7 380.7 L268.0 382.3 L267.5 383.9 L267.0 385.5 L266.6 387.2 L266.1 388.8 L265.7 390.4" fill="none" stroke="#111" stroke-width="1.6" stroke-linecap="round"/>
<path d="M289.1 360.6 L289.1 363.3 L289.1 366.1 L289.1 368.7 L289.0 371.2 L288.9 373.5 L288.7 375.7 L288.5 377.8 L288.2 379.8 L288.0 382.0 L287.8 384.3 L287.5 386.7 L287.1 389.3 L286.7 391.9 L286.3 394.6 L286.0 397.4 L285.9 400.2 L286.0 402.9 L286.3 405.6 L286.6 408.3 L287.1 410.9 L287.6 413.5 L288.0 416.1 L288.3 418.7 L288.5 421.4 L288.5 421.4 L289.3 418.8 L289.9 416.2 L290.3 413.5 L290.6 410.8 L291.0 408.2 L291.3 405.7 L291.8 403.3 L292.4 401.1 L293.2 398.8 L294.1 396.6 L295.1 394.4 L296.1 392.1 L297.3 389.6 L298.4 387.0 L299.4 384.2 L300.1 381.3 L300.2 378.2 L299.9 375.1 L299.2 372.1 L298.1 369.3 L296.9 366.7 L295.5 364.2 L294.0 361.9 L292.6 359.6Z" fill="#fff" stroke="#111" stroke-width="1.9" stroke-linejoin="round"/><path d="M294.7 367.3 L295.6 369.8 L296.3 372.5 L296.8 375.3 L296.9 378.1 L296.7 380.9 L296.2 383.6 L295.4 386.3 L294.5 388.8 L293.6 391.3 L292.7 393.7 L291.9 396.1 L291.2 398.4 L290.6 400.8 L290.2 403.2 L289.9 405.7 L289.7 408.3" fill="none" stroke="#111" stroke-width="1.6" stroke-linecap="round"/><path d="M291.3 368.1 L291.6 370.7 L291.8 373.1 L291.8 375.5 L291.8 377.9 L291.5 380.2 L291.2 382.6 L290.8 385.1 L290.3 387.5 L289.6 390.1 L289.0 392.6 L288.4 395.2 L288.0 397.8 L287.7 400.4 L287.6 403.0 L287.7 405.7 L287.9 408.3" fill="none" stroke="#111" stroke-width="1.6" stroke-linecap="round"/>
<path d="M300.5 356.5 L300.7 358.4 L300.9 360.3 L301.0 362.0 L300.9 363.6 L300.7 364.9 L300.4 366.2 L299.9 367.5 L299.4 368.9 L298.9 370.4 L298.4 372.1 L297.8 373.9 L297.2 375.9 L296.8 377.9 L296.5 379.9 L296.5 382.0 L296.7 384.0 L297.2 385.9 L297.7 387.8 L298.3 389.6 L298.9 391.4 L299.4 393.1 L299.8 394.9 L300.0 396.7 L299.9 398.5 L299.9 398.5 L300.6 396.7 L301.0 394.9 L301.2 393.0 L301.2 391.0 L301.2 389.1 L301.1 387.2 L301.0 385.4 L301.1 383.8 L301.4 382.3 L301.8 380.9 L302.4 379.5 L303.1 378.2 L304.0 376.7 L305.0 375.2 L306.0 373.4 L306.9 371.5 L307.5 369.4 L307.7 367.1 L307.6 364.8 L307.0 362.6 L306.2 360.6 L305.1 358.8 L303.9 357.1 L302.7 355.5Z" fill="#fff" stroke="#111" stroke-width="1.9" stroke-linejoin="round"/><path d="M303.6 361.3 L304.0 363.1 L304.1 364.9 L304.1 366.7 L303.7 368.4 L303.2 370.2 L302.5 371.9 L301.7 373.6 L300.9 375.3 L300.2 377.0 L299.6 378.7 L299.2 380.4 L299.0 382.1 L298.9 383.9 L299.1 385.7 L299.4 387.5 L299.7 389.3" fill="none" stroke="#111" stroke-width="1.6" stroke-linecap="round"/>
<path d="M303.9 411.5 L302.6 413.3 L301.5 415.0 L300.3 416.6 L299.3 418.1 L298.3 419.4 L297.3 420.7 L296.4 422.0 L295.5 423.5 L294.8 425.2 L294.2 427.1 L293.6 429.1 L293.0 431.3 L292.6 433.6 L292.3 435.9 L292.2 438.2 L292.4 440.4 L292.7 442.6 L293.1 444.7 L293.7 446.7 L294.2 448.6 L294.8 450.4 L295.3 452.3 L295.8 454.2 L296.2 456.1 L296.2 456.1 L296.9 454.2 L297.4 452.3 L297.7 450.3 L298.0 448.3 L298.3 446.4 L298.6 444.5 L299.0 442.7 L299.5 441.0 L300.1 439.4 L300.8 438.0 L301.6 436.6 L302.5 435.3 L303.5 434.0 L304.7 432.6 L305.9 431.1 L307.0 429.4 L307.9 427.4 L308.5 425.3 L308.9 423.1 L309.0 420.8 L308.9 418.6 L308.5 416.5 L308.1 414.4 L307.7 412.3Z" fill="#fff" stroke="#111" stroke-width="1.9" stroke-linejoin="round"/><path d="M306.5 418.1 L306.3 420.1 L305.9 422.1 L305.4 424.0 L304.7 425.9 L303.8 427.8 L302.8 429.4 L301.8 431.0 L300.8 432.6 L299.8 434.2 L299.1 435.8 L298.4 437.4 L297.9 439.1 L297.5 440.8 L297.2 442.6 L297.1 444.5 L297.0 446.4" fill="none" stroke="#111" stroke-width="1.6" stroke-linecap="round"/><path d="M302.7 417.2 L302.0 418.8 L301.2 420.5 L300.4 422.0 L299.6 423.6 L298.7 425.1 L297.9 426.8 L297.2 428.6 L296.4 430.5 L295.7 432.4 L295.1 434.4 L294.7 436.5 L294.4 438.5 L294.4 440.6 L294.4 442.6 L294.7 444.6 L295.0 446.6" fill="none" stroke="#111" stroke-width="1.6" stroke-linecap="round"/>
<path d="M309.9 376.1 L309.5 380.0 L309.2 384.0 L309.0 387.9 L309.0 391.9 L309.2 395.8 L309.6 399.7 L310.1 403.6 L310.6 407.4 L311.4 411.1 L312.2 414.7 L312.8 418.4 L313.3 422.0 L313.6 425.7 L313.7 429.4 L313.6 433.2 L313.5 437.0 L313.2 440.8 L313.0 444.7 L312.7 448.6 L312.6 452.4 L312.5 456.3 L312.6 460.2 L312.8 464.1 L313.1 467.9 L313.1 467.9 L313.5 464.1 L314.0 460.3 L314.5 456.5 L315.2 452.7 L315.9 449.0 L316.7 445.2 L317.6 441.4 L318.4 437.6 L319.1 433.7 L319.7 429.8 L320.1 425.8 L320.4 421.8 L320.4 417.8 L320.3 413.8 L320.0 409.8 L319.5 405.8 L318.7 402.0 L317.8 398.3 L316.9 394.6 L315.9 391.0 L315.0 387.3 L314.2 383.6 L313.4 379.9 L312.6 376.0Z" fill="#fff" stroke="#111" stroke-width="1.9" stroke-linejoin="round"/><path d="M312.0 387.6 L312.5 391.4 L313.0 395.2 L313.7 399.0 L314.4 402.8 L315.1 406.6 L315.7 410.4 L316.2 414.2 L316.6 418.1 L316.8 421.9 L316.9 425.8 L316.7 429.6 L316.4 433.5 L315.9 437.3 L315.4 441.1 L314.9 444.9 L314.3 448.8" fill="none" stroke="#111" stroke-width="1.6" stroke-linecap="round"/>
<path d="M319.0 399.3 L319.5 401.1 L320.1 402.9 L320.5 404.5 L320.8 405.9 L320.9 407.2 L320.9 408.3 L320.9 409.3 L320.9 410.3 L321.1 411.5 L321.3 412.9 L321.4 414.5 L321.5 416.2 L321.6 418.1 L321.8 420.0 L322.2 421.9 L322.8 423.8 L323.6 425.5 L324.5 427.1 L325.5 428.6 L326.4 430.1 L327.4 431.5 L328.2 432.9 L329.0 434.4 L329.6 436.0 L329.6 436.0 L329.9 434.3 L329.9 432.5 L329.7 430.7 L329.5 428.9 L329.1 427.2 L328.9 425.5 L328.8 424.0 L328.8 422.6 L328.9 421.3 L329.2 420.1 L329.6 418.7 L330.1 417.3 L330.6 415.7 L331.2 413.9 L331.7 411.9 L331.9 409.7 L331.5 407.5 L330.7 405.3 L329.6 403.3 L328.1 401.6 L326.5 400.2 L324.8 399.0 L323.2 398.1 L321.5 397.2Z" fill="#fff" stroke="#111" stroke-width="1.9" stroke-linejoin="round"/><path d="M323.5 402.3 L324.4 403.7 L325.2 405.2 L325.8 406.8 L326.2 408.4 L326.4 410.0 L326.4 411.7 L326.2 413.4 L326.0 415.1 L325.8 416.8 L325.6 418.4 L325.5 420.0 L325.6 421.6 L325.8 423.2 L326.2 424.8 L326.7 426.3 L327.3 427.9" fill="none" stroke="#111" stroke-width="1.6" stroke-linecap="round"/>
<path d="M323.9 420.3 L323.7 421.8 L323.4 423.1 L322.9 424.2 L322.4 425.2 L321.8 426.1 L321.1 427.2 L320.3 428.4 L319.5 429.7 L318.8 431.3 L318.3 433.0 L318.0 434.8 L317.9 436.7 L318.1 438.6 L318.6 440.3 L319.3 441.9 L320.1 443.4 L321.0 444.8 L321.8 446.1 L322.6 447.3 L323.2 448.5 L323.7 449.7 L324.0 451.0 L324.2 452.4 L324.2 453.9 L324.2 453.9 L324.8 452.5 L325.1 451.0 L325.3 449.5 L325.2 448.0 L324.9 446.4 L324.5 444.9 L324.1 443.4 L323.6 441.9 L323.3 440.5 L323.2 439.3 L323.2 438.1 L323.4 437.1 L323.8 436.1 L324.3 435.1 L325.0 434.1 L325.7 432.9 L326.3 431.5 L326.9 430.0 L327.4 428.3 L327.7 426.5 L327.6 424.7 L327.3 423.0 L326.7 421.4 L325.9 419.9Z" fill="#fff" stroke="#111" stroke-width="1.9" stroke-linejoin="round"/>
<path d="M334.9 360.2 L335.3 363.7 L335.6 367.1 L335.9 370.5 L336.0 373.8 L336.0 377.2 L335.9 380.5 L335.8 383.8 L335.5 387.1 L335.3 390.5 L335.1 393.9 L334.9 397.3 L334.7 400.8 L334.6 404.3 L334.6 407.8 L334.8 411.2 L335.0 414.7 L335.4 418.1 L335.8 421.6 L336.3 425.0 L336.7 428.4 L337.0 431.8 L337.3 435.2 L337.3 438.7 L337.3 442.1 L337.3 442.1 L337.8 438.7 L338.2 435.3 L338.4 431.8 L338.5 428.3 L338.4 424.8 L338.4 421.4 L338.3 418.0 L338.3 414.6 L338.4 411.2 L338.7 407.9 L339.0 404.5 L339.4 401.2 L340.0 397.9 L340.5 394.5 L341.1 391.0 L341.5 387.5 L341.6 384.0 L341.5 380.4 L341.2 376.9 L340.6 373.3 L339.9 369.9 L338.9 366.5 L337.8 363.1 L336.7 359.8Z" fill="#fff" stroke="#111" stroke-width="1.9" stroke-linejoin="round"/>
<path d="M314.0 361.0 L312.8 361.9 L311.6 363.1 L310.6 364.5 L309.9 366.2 L309.5 367.9 L309.4 369.6 L309.4 371.2 L309.6 372.6 L309.9 373.8 L310.2 374.8 L310.5 375.6 L310.6 376.5 L310.6 377.3 L310.4 378.3 L310.1 379.5 L309.6 380.7 L309.0 382.0 L308.5 383.4 L308.0 384.9 L307.8 386.4 L307.7 387.9 L308.0 389.3 L308.4 390.7 L309.1 391.9 L309.1 391.9 L309.1 390.6 L309.2 389.3 L309.5 388.1 L310.0 387.0 L310.7 386.0 L311.4 385.1 L312.3 384.1 L313.3 383.0 L314.3 381.9 L315.2 380.7 L316.1 379.3 L316.8 377.8 L317.2 376.1 L317.5 374.4 L317.6 372.8 L317.5 371.3 L317.1 369.9 L316.8 368.7 L316.4 367.7 L316.1 366.8 L315.8 365.8 L315.7 364.8 L315.7 363.7 L316.0 362.4Z" fill="#fff" stroke="#111" stroke-width="1.9" stroke-linejoin="round"/><path d="M313.2 365.2 L313.0 366.5 L313.0 367.8 L313.1 369.2 L313.3 370.5 L313.5 371.9 L313.7 373.3 L313.9 374.6 L313.9 375.9 L313.7 377.1 L313.3 378.3 L312.8 379.5 L312.2 380.7 L311.4 381.9 L310.7 383.0 L310.0 384.2 L309.3 385.5" fill="none" stroke="#111" stroke-width="1.6" stroke-linecap="round"/>
<path d="M282 304 C290 300 298 298 304 295 C310 292 314 286 317 276 C320 262 322 240 323.6 211.4 L330 215 L338 222 L342 222 C343 238 345 255 349 268 C353 280 360 290 366 294 C370 297 374 300 378 303 C360 306 335 310 318 311 C305 311 292 308 284 304 Z" fill="#fff"/>
<path d="M324 213 L330 216 L337 222 C339 240 342 258 348 282 C338 292 328 298 318 302 C314 300 310 297 308 293 C315 284 320 262 322 235 Z" fill="#aaaaaa"/>
<path d="M325.7 214 Q333 238 338.6 252" fill="none" stroke="#222" stroke-width="1.4"/>
<path d="M324.3 226 Q331 258 341.4 272" fill="none" stroke="#222" stroke-width="1.4"/>
<path d="M322.9 246 Q329 276 342 290" fill="none" stroke="#222" stroke-width="1.4"/>
<path d="M321.4 260 Q325 282 336 295" fill="none" stroke="#222" stroke-width="1.4"/>
<path d="M320 274 Q321 287 328 297" fill="none" stroke="#222" stroke-width="1.4"/>
<path d="M327 218 Q335 236 339 246" fill="none" stroke="#222" stroke-width="1.4"/>
<path d="M336 264 q6 6 3 14 M339 258 q7 8 3 18" fill="none" stroke="#222" stroke-width="1.1"/>
<path d="M340 223 C341 245 344 262 349 276 C353 286 360 293 368 299" fill="none" stroke="#111" stroke-width="1.4" stroke-dasharray="6 2"/>
<path d="M346 262 C349 274 354 284 362 292 M344 250 C346 262 349 270 352 278" fill="none" stroke="#111" stroke-width="1.2"/>
<path d="M318 284 Q306 296 290 304" fill="none" stroke="#111" stroke-width="1.7" stroke-linecap="round"/>
<path d="M324 290 Q308 300 292 308" fill="none" stroke="#111" stroke-width="1.7" stroke-linecap="round"/>
<path d="M330 292 Q312 300 294 312" fill="none" stroke="#111" stroke-width="1.7" stroke-linecap="round"/>
<path d="M314 290 Q300 298 284 310" fill="none" stroke="#111" stroke-width="1.7" stroke-linecap="round"/>
<path d="M350 284 Q326 298 296 306" fill="none" stroke="#111" stroke-width="1.7" stroke-linecap="round"/>
<path d="M356 290 Q330 302 300 312" fill="none" stroke="#111" stroke-width="1.7" stroke-linecap="round"/>
<path d="M362 295 Q336 306 306 318" fill="none" stroke="#111" stroke-width="1.7" stroke-linecap="round"/>
<path d="M346 292 Q318 300 288 310" fill="none" stroke="#111" stroke-width="1.7" stroke-linecap="round"/>
<path d="M368 300 Q344 309 316 322" fill="none" stroke="#111" stroke-width="1.7" stroke-linecap="round"/>
<path d="M340 298 Q314 306 282 318" fill="none" stroke="#111" stroke-width="1.7" stroke-linecap="round"/>
<path d="M334 304 Q306 312 276 326" fill="none" stroke="#111" stroke-width="1.7" stroke-linecap="round"/>
<path d="M372 303 Q354 314 330 330" fill="none" stroke="#111" stroke-width="1.7" stroke-linecap="round"/>
<path d="M326 308 Q300 318 272 334" fill="none" stroke="#111" stroke-width="1.7" stroke-linecap="round"/>
<path d="M358 306 Q336 318 318 336" fill="none" stroke="#111" stroke-width="1.7" stroke-linecap="round"/>
<path d="M310 300 Q296 304 288 312" fill="none" stroke="#111" stroke-width="1.7" stroke-linecap="round"/>
<path d="M282 304 C290 300 298 298 304 295 C310 292 314 286 317 276 C320 262 322 240 323.6 211.4 L330 215 L338 222 L342 222 C343 238 345 255 349 268 C353 280 360 290 366 294 C370 297 374 300 378 303" fill="none" stroke="#111" stroke-width="2.6" stroke-linejoin="round"/>

<!-- front panel -->
<path d="M341 346 Q380 345 409 342 Q447 335 463 326 L464.5 459 Q445 475 409 479.5 Q380 484 341 485 Z" fill="url(#gL)"/>
<path d="M409 342 Q447 335 463 326 L464.5 459 Q445 475 409 479.5 Z" fill="url(#gR)"/>
<path d="M341 346 Q380 345 409 342 Q447 335 463 326 L464.5 459 Q445 475 409 479.5 Q380 484 341 485 Z" fill="none" stroke="#111" stroke-width="1.8"/>
<path d="M409 342 V479.5" stroke="#111" stroke-width="1.5"/>

<!-- arrow -->
<path d="M204 225.7 H247.9 L260 292" fill="none" stroke="#111" stroke-width="1.8"/>
<path d="M249.3 286.4 L260 292.9 L267.9 282.9 L262.9 308 Z" fill="#111" stroke="#111" stroke-width="0.8" stroke-linejoin="round"/>

<!-- texts -->
<text x="56" y="227.5" font-size="27" textLength="113" lengthAdjust="spacingAndGlyphs">90° Root</text>
<text x="15" y="257" font-size="27" textLength="196.5" lengthAdjust="spacingAndGlyphs">Deflecting Ribs</text>
<text x="392" y="207.8" font-size="33" textLength="146.5" lengthAdjust="spacingAndGlyphs">Surround</text>
<text x="378.5" y="240" font-size="33" textLength="174.5" lengthAdjust="spacingAndGlyphs">Application</text>
<text x="72" y="332.5" font-size="26" textLength="54.5" lengthAdjust="spacingAndGlyphs">Curb</text>
<text x="508" y="301" font-size="22.6" textLength="158" lengthAdjust="spacingAndGlyphs">Sidewalk Grade</text>
</svg>
</body></html>
